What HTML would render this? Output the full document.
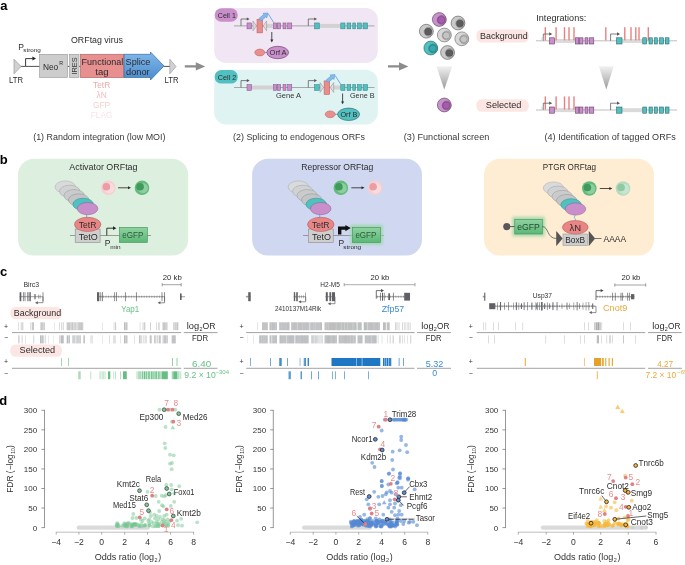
<!DOCTYPE html>
<html><head><meta charset="utf-8"><title>ORFtag figure</title>
<style>
html,body{margin:0;padding:0;background:#fff;}
body{width:685px;height:565px;overflow:hidden;}
svg{display:block;will-change:transform;font-family:"Liberation Sans",sans-serif;}
</style></head><body>
<svg width="685" height="565" viewBox="0 0 685 565">
<defs>
<linearGradient id="gsd" x1="0" y1="0" x2="0" y2="1"><stop offset="0" stop-color="#82b8ea"/><stop offset="1" stop-color="#4a8ccf"/></linearGradient>
<linearGradient id="gfun" x1="0" y1="0" x2="0" y2="1"><stop offset="0" stop-color="#f2f2f2"/><stop offset="1" stop-color="#9a9a9a"/></linearGradient>
<linearGradient id="ggfp" x1="0" y1="0" x2="0" y2="1"><stop offset="0" stop-color="#8fd2a0"/><stop offset="1" stop-color="#5cb877"/></linearGradient>
<filter id="blur1" x="-30%" y="-30%" width="160%" height="160%"><feGaussianBlur stdDeviation="1.6"/></filter>
<filter id="blur05" x="-30%" y="-30%" width="160%" height="160%"><feGaussianBlur stdDeviation="0.7"/></filter>
</defs>
<rect width="685" height="565" fill="#ffffff"/>
<g id="pa">
<text x="0.20" y="10.40" font-size="13" fill="#000" font-weight="bold">a</text>
<text x="71.00" y="42.50" font-size="8.8" fill="#2c2c2c" textLength="52.00" lengthAdjust="spacingAndGlyphs">ORFtag virus</text>
<text x="18.30" y="49.60" font-size="8.5" fill="#2c2c2c">P</text>
<text x="23.30" y="52.00" font-size="5.6" fill="#2c2c2c" textLength="17.50" lengthAdjust="spacingAndGlyphs">strong</text>
<line x1="20.50" y1="66.40" x2="40.00" y2="66.40" stroke="#333" stroke-width="0.85"/>
<line x1="67.50" y1="66.40" x2="69.50" y2="66.40" stroke="#333" stroke-width="0.85"/>
<line x1="79.00" y1="66.40" x2="80.50" y2="66.40" stroke="#333" stroke-width="0.85"/>
<line x1="164.00" y1="66.40" x2="170.00" y2="66.40" stroke="#333" stroke-width="0.85"/>
<path d="M14 59.2V73.8L21 66.5Z" fill="#d2d2d2" stroke="#8e8e8e" stroke-width="0.6"/>
<path d="M169.8 59.2V73.8L176 66.5Z" fill="#d2d2d2" stroke="#8e8e8e" stroke-width="0.6"/>
<path d="M25.60 66.00V58.60H32.70" fill="none" stroke="#222" stroke-width="0.9"/>
<path d="M36.00 58.60l-3.60 -1.98v3.96z" fill="#222"/>
<rect x="39.60" y="54.30" width="27.90" height="23.20" fill="#cdcdcd" stroke="#969696" stroke-width="0.6"/>
<rect x="69.60" y="54.30" width="9.40" height="23.20" fill="#cdcdcd" stroke="#969696" stroke-width="0.6"/>
<rect x="80.60" y="54.30" width="43.40" height="23.20" fill="#e89090" stroke="#b26464" stroke-width="0.7"/>
<path d="M124 54.3H150.5V52L164 66L150.5 80V77.5H124Z" fill="url(#gsd)" stroke="#3a6a9c" stroke-width="0.7"/>
<text x="42.90" y="69.50" font-size="9" fill="#2c2c2c" textLength="15.30" lengthAdjust="spacingAndGlyphs">Neo</text>
<text x="59.20" y="64.60" font-size="5.3" fill="#2c2c2c">R</text>
<text transform="translate(77.4,74.6) rotate(-90)" font-size="6.6" fill="#333" textLength="17.2" lengthAdjust="spacingAndGlyphs">IRES</text>
<text x="81.60" y="64.80" font-size="9" fill="#2c2c2c" textLength="41.60" lengthAdjust="spacingAndGlyphs">Functional</text>
<text x="95.30" y="74.80" font-size="9" fill="#2c2c2c" textLength="13.20" lengthAdjust="spacingAndGlyphs">tag</text>
<text x="125.60" y="64.80" font-size="9" fill="#2c2c2c" textLength="24.80" lengthAdjust="spacingAndGlyphs">Splice</text>
<text x="126.10" y="74.80" font-size="9" fill="#2c2c2c" textLength="23.60" lengthAdjust="spacingAndGlyphs">donor</text>
<text x="9.00" y="82.50" font-size="8.2" fill="#2c2c2c" textLength="14.00" lengthAdjust="spacingAndGlyphs">LTR</text>
<text x="164.60" y="82.50" font-size="8.2" fill="#2c2c2c" textLength="14.00" lengthAdjust="spacingAndGlyphs">LTR</text>
<text x="101.60" y="88.00" font-size="8.4" fill="#eca9a9" text-anchor="middle">TetR</text>
<text x="101.60" y="98.00" font-size="8.4" fill="#f2bdbd" text-anchor="middle">λN</text>
<text x="101.60" y="108.30" font-size="8.4" fill="#f6d0d0" text-anchor="middle">GFP</text>
<text x="101.60" y="118.20" font-size="8.4" fill="#fae3e3" text-anchor="middle">FLAG</text>
<text x="33.20" y="139.50" font-size="8.8" fill="#383838" textLength="132.30" lengthAdjust="spacingAndGlyphs">(1) Random integration (low MOI)</text>
<path d="M184.8 65.2H195.8V62.3L205.20000000000002 66.4L195.8 70.5V67.6H184.8Z" fill="#8c8c8c"/>
<path d="M388 65.2H399V62.3L408.4 66.4L399 70.5V67.6H388Z" fill="#8c8c8c"/>
<rect x="214.20" y="8.00" width="163.60" height="55.10" fill="#f1e6f3" rx="12"/>
<rect x="214.20" y="69.80" width="163.60" height="54.80" fill="#e0f3f3" rx="12"/>
<rect x="214.60" y="8.30" width="23.20" height="13.50" fill="#c88fcb" rx="6.7"/>
<rect x="214.60" y="70.10" width="23.20" height="13.50" fill="#52c0c0" rx="6.7"/>
<text x="217.80" y="18.00" font-size="7.6" fill="#2c2c2c" textLength="18.00" lengthAdjust="spacingAndGlyphs">Cell 1</text>
<text x="217.80" y="80.00" font-size="7.6" fill="#2c2c2c" textLength="18.40" lengthAdjust="spacingAndGlyphs">Cell 2</text>
<line x1="234.00" y1="25.90" x2="374.50" y2="25.90" stroke="#8a8a8a" stroke-width="0.7"/>
<rect x="266.50" y="23.90" width="7.00" height="4.00" fill="#d2d2d2"/>
<rect x="320.00" y="23.90" width="20.80" height="4.00" fill="#d2d2d2"/>
<path d="M241.00 25.90V19.00H247.10" fill="none" stroke="#555" stroke-width="0.75"/>
<path d="M249.60 19.00l-2.80 -1.54v3.08z" fill="#555"/>
<path d="M308.30 25.90V19.00H314.50" fill="none" stroke="#555" stroke-width="0.75"/>
<path d="M317.00 19.00l-2.80 -1.54v3.08z" fill="#555"/>
<rect x="247.00" y="22.95" width="4.50" height="5.90" fill="#c88fcb" stroke="#7d4f80" stroke-width="0.5"/>
<rect x="273.50" y="22.95" width="3.10" height="5.90" fill="#c88fcb" stroke="#7d4f80" stroke-width="0.5"/>
<rect x="277.20" y="22.95" width="3.40" height="5.90" fill="#c88fcb" stroke="#7d4f80" stroke-width="0.5"/>
<rect x="283.00" y="22.95" width="3.00" height="5.90" fill="#c88fcb" stroke="#7d4f80" stroke-width="0.5"/>
<rect x="287.70" y="22.95" width="4.10" height="5.90" fill="#c88fcb" stroke="#7d4f80" stroke-width="0.5"/>
<rect x="314.60" y="22.95" width="4.80" height="5.90" fill="#52c0c0" stroke="#2d7f80" stroke-width="0.5"/>
<rect x="340.80" y="22.95" width="4.20" height="5.90" fill="#52c0c0" stroke="#2d7f80" stroke-width="0.5"/>
<rect x="347.00" y="22.95" width="3.80" height="5.90" fill="#52c0c0" stroke="#2d7f80" stroke-width="0.5"/>
<rect x="352.80" y="22.95" width="2.80" height="5.90" fill="#52c0c0" stroke="#2d7f80" stroke-width="0.5"/>
<rect x="357.50" y="22.95" width="3.80" height="5.90" fill="#52c0c0" stroke="#2d7f80" stroke-width="0.5"/>
<rect x="363.00" y="22.95" width="4.50" height="5.90" fill="#52c0c0" stroke="#2d7f80" stroke-width="0.5"/>
<path d="M253 21.0V30.799999999999997L256.5 25.9Z" fill="#dcdcdc" stroke="#8a8a8a" stroke-width="0.5"/>
<path d="M266.6 21.0V30.799999999999997L263.1 25.9Z" fill="#dcdcdc" stroke="#8a8a8a" stroke-width="0.5"/>
<rect x="257.00" y="19.30" width="5.60" height="13.60" fill="#e98c8c" stroke="#b85a5a" stroke-width="0.5"/>
<g transform="translate(260.00,19.70) rotate(-40)">
<path d="M0 -1.6H6.4V-3L10.4 0L6.4 3V1.6H0Z" fill="#86b9ec" stroke="#4d8fd0" stroke-width="0.45"/>
</g>
<line x1="268.20" y1="13.80" x2="273.60" y2="22.40" stroke="#3d8fd6" stroke-width="0.7"/>
<line x1="234.00" y1="87.50" x2="374.50" y2="87.50" stroke="#8a8a8a" stroke-width="0.7"/>
<rect x="251.50" y="85.50" width="22.00" height="4.00" fill="#d2d2d2"/>
<rect x="333.40" y="85.50" width="7.40" height="4.00" fill="#d2d2d2"/>
<path d="M241.00 87.50V80.60H247.10" fill="none" stroke="#555" stroke-width="0.75"/>
<path d="M249.60 80.60l-2.80 -1.54v3.08z" fill="#555"/>
<path d="M308.30 87.50V80.60H314.50" fill="none" stroke="#555" stroke-width="0.75"/>
<path d="M317.00 80.60l-2.80 -1.54v3.08z" fill="#555"/>
<rect x="247.00" y="84.55" width="4.50" height="5.90" fill="#c88fcb" stroke="#7d4f80" stroke-width="0.5"/>
<rect x="273.50" y="84.55" width="3.10" height="5.90" fill="#c88fcb" stroke="#7d4f80" stroke-width="0.5"/>
<rect x="277.20" y="84.55" width="3.40" height="5.90" fill="#c88fcb" stroke="#7d4f80" stroke-width="0.5"/>
<rect x="283.00" y="84.55" width="3.00" height="5.90" fill="#c88fcb" stroke="#7d4f80" stroke-width="0.5"/>
<rect x="287.70" y="84.55" width="4.10" height="5.90" fill="#c88fcb" stroke="#7d4f80" stroke-width="0.5"/>
<rect x="314.60" y="84.55" width="4.80" height="5.90" fill="#52c0c0" stroke="#2d7f80" stroke-width="0.5"/>
<rect x="340.80" y="84.55" width="4.20" height="5.90" fill="#52c0c0" stroke="#2d7f80" stroke-width="0.5"/>
<rect x="347.00" y="84.55" width="3.80" height="5.90" fill="#52c0c0" stroke="#2d7f80" stroke-width="0.5"/>
<rect x="352.80" y="84.55" width="2.80" height="5.90" fill="#52c0c0" stroke="#2d7f80" stroke-width="0.5"/>
<rect x="357.50" y="84.55" width="3.80" height="5.90" fill="#52c0c0" stroke="#2d7f80" stroke-width="0.5"/>
<rect x="363.00" y="84.55" width="4.50" height="5.90" fill="#52c0c0" stroke="#2d7f80" stroke-width="0.5"/>
<path d="M320.1 82.6V92.4L323.6 87.5Z" fill="#dcdcdc" stroke="#8a8a8a" stroke-width="0.5"/>
<path d="M333.70000000000005 82.6V92.4L330.20000000000005 87.5Z" fill="#dcdcdc" stroke="#8a8a8a" stroke-width="0.5"/>
<rect x="324.10" y="80.90" width="5.60" height="13.60" fill="#e98c8c" stroke="#b85a5a" stroke-width="0.5"/>
<g transform="translate(327.10,81.30) rotate(-40)">
<path d="M0 -1.6H6.4V-3L10.4 0L6.4 3V1.6H0Z" fill="#86b9ec" stroke="#4d8fd0" stroke-width="0.45"/>
</g>
<line x1="335.30" y1="75.80" x2="340.80" y2="84.40" stroke="#3d8fd6" stroke-width="0.7"/>
<line x1="271.80" y1="32.00" x2="271.80" y2="40.40" stroke="#222" stroke-width="0.8"/>
<path d="M271.8 42.4l-1.5 -2.8h3z" fill="#2c2c2c"/>
<line x1="342.60" y1="93.50" x2="342.60" y2="102.20" stroke="#222" stroke-width="0.8"/>
<path d="M342.6 104.2l-1.5 -2.8h3z" fill="#2c2c2c"/>
<line x1="264.50" y1="52.50" x2="267.00" y2="52.50" stroke="#3d8fd6" stroke-width="0.7"/>
<ellipse cx="259.80" cy="52.50" rx="5.00" ry="3.40" fill="#ea8e8e" stroke="#b85a5a" stroke-width="0.5"/>
<ellipse cx="277.70" cy="52.50" rx="10.90" ry="6.20" fill="#c88fcb" stroke="#5d3560" stroke-width="0.6"/>
<text x="269.60" y="55.30" font-size="7.8" fill="#2c2c2c" textLength="17.00" lengthAdjust="spacingAndGlyphs">Orf A</text>
<line x1="335.00" y1="114.30" x2="338.00" y2="114.30" stroke="#3d8fd6" stroke-width="0.7"/>
<ellipse cx="330.20" cy="114.30" rx="5.00" ry="3.40" fill="#ea8e8e" stroke="#b85a5a" stroke-width="0.5"/>
<ellipse cx="348.60" cy="114.30" rx="11.00" ry="6.20" fill="#52c0c0" stroke="#1f5e60" stroke-width="0.6"/>
<text x="340.40" y="117.10" font-size="7.8" fill="#2c2c2c" textLength="17.00" lengthAdjust="spacingAndGlyphs">Orf B</text>
<text x="276.00" y="97.50" font-size="7.4" fill="#333" textLength="25.00" lengthAdjust="spacingAndGlyphs">Gene A</text>
<text x="350.00" y="97.50" font-size="7.4" fill="#333" textLength="24.50" lengthAdjust="spacingAndGlyphs">Gene B</text>
<text x="233.00" y="139.50" font-size="8.8" fill="#383838" textLength="132.00" lengthAdjust="spacingAndGlyphs">(2) Splicing to endogenous ORFs</text>
<ellipse cx="439.30" cy="19.50" rx="6.90" ry="6.90" fill="#c893cc" stroke="#5d3560" stroke-width="0.6"/>
<ellipse cx="441.60" cy="20.00" rx="4.40" ry="4.40" fill="#bb7fc0" stroke="#5d3560" stroke-width="0.45"/>
<ellipse cx="441.30" cy="20.00" rx="3.60" ry="3.60" fill="#a65cae" stroke="#5d3560" stroke-width="0.45"/>
<ellipse cx="458.00" cy="23.00" rx="6.90" ry="6.90" fill="#c9c9c9" stroke="#555" stroke-width="0.6"/>
<ellipse cx="460.30" cy="23.50" rx="4.40" ry="4.40" fill="#d8d8d8" stroke="#555" stroke-width="0.45"/>
<ellipse cx="460.00" cy="23.50" rx="3.60" ry="3.60" fill="#5c5c5f" stroke="#444" stroke-width="0.45"/>
<ellipse cx="426.30" cy="31.20" rx="6.90" ry="6.90" fill="#c9c9c9" stroke="#555" stroke-width="0.6"/>
<ellipse cx="428.60" cy="31.70" rx="4.40" ry="4.40" fill="#d8d8d8" stroke="#555" stroke-width="0.45"/>
<ellipse cx="428.30" cy="31.70" rx="3.60" ry="3.60" fill="#5c5c5f" stroke="#444" stroke-width="0.45"/>
<ellipse cx="444.30" cy="35.00" rx="6.90" ry="6.90" fill="#d8d8d8" stroke="#626262" stroke-width="0.6"/>
<ellipse cx="446.60" cy="35.50" rx="4.40" ry="4.40" fill="#dedede" stroke="#626262" stroke-width="0.45"/>
<ellipse cx="446.30" cy="35.50" rx="3.60" ry="3.60" fill="#c4c4c4" stroke="#626262" stroke-width="0.45"/>
<ellipse cx="461.80" cy="38.80" rx="6.90" ry="6.90" fill="#d8d8d8" stroke="#626262" stroke-width="0.6"/>
<ellipse cx="464.10" cy="39.30" rx="4.40" ry="4.40" fill="#dedede" stroke="#626262" stroke-width="0.45"/>
<ellipse cx="463.80" cy="39.30" rx="3.60" ry="3.60" fill="#c4c4c4" stroke="#626262" stroke-width="0.45"/>
<ellipse cx="430.80" cy="48.00" rx="6.90" ry="6.90" fill="#52c0c0" stroke="#1f5e60" stroke-width="0.6"/>
<ellipse cx="433.10" cy="48.50" rx="4.40" ry="4.40" fill="#45b6b6" stroke="#1f5e60" stroke-width="0.45"/>
<ellipse cx="432.80" cy="48.50" rx="3.60" ry="3.60" fill="#35aaaa" stroke="#1f5e60" stroke-width="0.45"/>
<ellipse cx="447.50" cy="52.50" rx="6.90" ry="6.90" fill="#c9c9c9" stroke="#555" stroke-width="0.6"/>
<ellipse cx="449.80" cy="53.00" rx="4.40" ry="4.40" fill="#d8d8d8" stroke="#555" stroke-width="0.45"/>
<ellipse cx="449.50" cy="53.00" rx="3.60" ry="3.60" fill="#5c5c5f" stroke="#444" stroke-width="0.45"/>
<ellipse cx="444.30" cy="105.00" rx="6.90" ry="6.90" fill="#c893cc" stroke="#5d3560" stroke-width="0.6"/>
<ellipse cx="446.60" cy="105.50" rx="4.40" ry="4.40" fill="#bb7fc0" stroke="#5d3560" stroke-width="0.45"/>
<ellipse cx="446.30" cy="105.50" rx="3.60" ry="3.60" fill="#a65cae" stroke="#5d3560" stroke-width="0.45"/>
<path d="M436.3 66.2H452.2L444.3 89.6Z" fill="url(#gfun)"/>
<path d="M598.8 66.2H613.8L606.3 89.6Z" fill="url(#gfun)"/>
<text x="403.80" y="139.50" font-size="8.8" fill="#383838" textLength="85.50" lengthAdjust="spacingAndGlyphs">(3) Functional screen</text>
<rect x="476.30" y="29.50" width="52.50" height="13.00" fill="#fce6e3" rx="5.5"/>
<rect x="476.30" y="99.30" width="52.50" height="12.50" fill="#fce6e3" rx="5.5"/>
<text x="480.00" y="38.80" font-size="8.8" fill="#2c2c2c" textLength="47.60" lengthAdjust="spacingAndGlyphs">Background</text>
<text x="485.80" y="108.30" font-size="8.8" fill="#2c2c2c" textLength="35.60" lengthAdjust="spacingAndGlyphs">Selected</text>
<text x="536.30" y="20.50" font-size="8.2" fill="#2c2c2c" textLength="50.00" lengthAdjust="spacingAndGlyphs">Integrations:</text>
<line x1="536.00" y1="40.80" x2="677.00" y2="40.80" stroke="#a2a2a2" stroke-width="0.7"/>
<rect x="554.50" y="39.00" width="21.00" height="3.90" fill="#dadada"/>
<rect x="622.00" y="39.00" width="20.80" height="3.90" fill="#dadada"/>
<rect x="544.60" y="27.20" width="1.40" height="13.20" fill="#e98080"/>
<rect x="555.40" y="27.20" width="1.40" height="13.20" fill="#e98080"/>
<rect x="563.80" y="27.20" width="1.40" height="13.20" fill="#e98080"/>
<rect x="568.30" y="27.20" width="1.40" height="13.20" fill="#e98080"/>
<rect x="573.30" y="27.20" width="1.40" height="13.20" fill="#e98080"/>
<rect x="605.10" y="27.20" width="1.40" height="13.20" fill="#e98080"/>
<rect x="624.10" y="27.20" width="1.40" height="13.20" fill="#e98080"/>
<rect x="630.30" y="27.20" width="1.40" height="13.20" fill="#e98080"/>
<rect x="635.10" y="27.20" width="1.40" height="13.20" fill="#e98080"/>
<rect x="638.30" y="27.20" width="1.40" height="13.20" fill="#e98080"/>
<rect x="647.60" y="27.20" width="1.40" height="13.20" fill="#e98080"/>
<path d="M543.30 40.80V34.00H549.50" fill="none" stroke="#555" stroke-width="0.75"/>
<path d="M552.20 34.00l-3.00 -1.65v3.30z" fill="#555"/>
<path d="M610.60 40.80V34.00H617.30" fill="none" stroke="#555" stroke-width="0.75"/>
<path d="M620.00 34.00l-3.00 -1.65v3.30z" fill="#555"/>
<rect x="541.60" y="37.40" width="1.60" height="3.40" fill="#d0d0d0"/>
<rect x="549.50" y="37.80" width="5.00" height="6.20" fill="#c88fcb" stroke="#5d3560" stroke-width="0.55"/>
<rect x="575.50" y="37.80" width="3.30" height="6.20" fill="#c88fcb" stroke="#5d3560" stroke-width="0.55"/>
<rect x="579.40" y="37.80" width="3.60" height="6.20" fill="#c88fcb" stroke="#5d3560" stroke-width="0.55"/>
<rect x="585.00" y="37.80" width="3.00" height="6.20" fill="#c88fcb" stroke="#5d3560" stroke-width="0.55"/>
<rect x="589.50" y="37.80" width="4.30" height="6.20" fill="#c88fcb" stroke="#5d3560" stroke-width="0.55"/>
<rect x="616.60" y="37.80" width="5.40" height="6.20" fill="#52c0c0" stroke="#1f5e60" stroke-width="0.55"/>
<rect x="642.80" y="37.80" width="3.70" height="6.20" fill="#52c0c0" stroke="#1f5e60" stroke-width="0.55"/>
<rect x="649.00" y="37.80" width="3.30" height="6.20" fill="#52c0c0" stroke="#1f5e60" stroke-width="0.55"/>
<rect x="654.50" y="37.80" width="2.80" height="6.20" fill="#52c0c0" stroke="#1f5e60" stroke-width="0.55"/>
<rect x="659.50" y="37.80" width="4.00" height="6.20" fill="#52c0c0" stroke="#1f5e60" stroke-width="0.55"/>
<rect x="665.30" y="37.80" width="3.70" height="6.20" fill="#52c0c0" stroke="#1f5e60" stroke-width="0.55"/>
<line x1="536.00" y1="110.00" x2="677.00" y2="110.00" stroke="#a2a2a2" stroke-width="0.7"/>
<rect x="554.50" y="108.20" width="21.00" height="3.90" fill="#dadada"/>
<rect x="622.00" y="108.20" width="20.80" height="3.90" fill="#dadada"/>
<rect x="544.60" y="96.40" width="1.40" height="13.20" fill="#e98080"/>
<rect x="555.40" y="96.40" width="1.40" height="13.20" fill="#e98080"/>
<rect x="563.80" y="96.40" width="1.40" height="13.20" fill="#e98080"/>
<rect x="568.30" y="96.40" width="1.40" height="13.20" fill="#e98080"/>
<rect x="573.30" y="96.40" width="1.40" height="13.20" fill="#e98080"/>
<path d="M543.30 110.00V103.20H549.50" fill="none" stroke="#555" stroke-width="0.75"/>
<path d="M552.20 103.20l-3.00 -1.65v3.30z" fill="#555"/>
<path d="M610.60 110.00V103.20H617.30" fill="none" stroke="#555" stroke-width="0.75"/>
<path d="M620.00 103.20l-3.00 -1.65v3.30z" fill="#555"/>
<rect x="541.60" y="106.60" width="1.60" height="3.40" fill="#d0d0d0"/>
<rect x="549.50" y="107.00" width="5.00" height="6.20" fill="#c88fcb" stroke="#5d3560" stroke-width="0.55"/>
<rect x="575.50" y="107.00" width="3.30" height="6.20" fill="#c88fcb" stroke="#5d3560" stroke-width="0.55"/>
<rect x="579.40" y="107.00" width="3.60" height="6.20" fill="#c88fcb" stroke="#5d3560" stroke-width="0.55"/>
<rect x="585.00" y="107.00" width="3.00" height="6.20" fill="#c88fcb" stroke="#5d3560" stroke-width="0.55"/>
<rect x="589.50" y="107.00" width="4.30" height="6.20" fill="#c88fcb" stroke="#5d3560" stroke-width="0.55"/>
<rect x="616.60" y="107.00" width="5.40" height="6.20" fill="#52c0c0" stroke="#1f5e60" stroke-width="0.55"/>
<rect x="642.80" y="107.00" width="3.70" height="6.20" fill="#52c0c0" stroke="#1f5e60" stroke-width="0.55"/>
<rect x="649.00" y="107.00" width="3.30" height="6.20" fill="#52c0c0" stroke="#1f5e60" stroke-width="0.55"/>
<rect x="654.50" y="107.00" width="2.80" height="6.20" fill="#52c0c0" stroke="#1f5e60" stroke-width="0.55"/>
<rect x="659.50" y="107.00" width="4.00" height="6.20" fill="#52c0c0" stroke="#1f5e60" stroke-width="0.55"/>
<rect x="665.30" y="107.00" width="3.70" height="6.20" fill="#52c0c0" stroke="#1f5e60" stroke-width="0.55"/>
<text x="544.50" y="139.50" font-size="8.8" fill="#383838" textLength="131.30" lengthAdjust="spacingAndGlyphs">(4) Identification of tagged ORFs</text>
</g>
<g id="pb">
<text x="-0.20" y="163.60" font-size="13" fill="#000" font-weight="bold">b</text>
<rect x="18.00" y="158.70" width="170.20" height="96.90" fill="#ddf0e0" rx="16"/>
<rect x="252.10" y="158.70" width="169.90" height="96.90" fill="#cfd8f0" rx="16"/>
<rect x="484.00" y="158.70" width="170.00" height="96.90" fill="#feedd2" rx="16"/>
<text x="69.30" y="169.80" font-size="8.6" fill="#2c2c2c" textLength="68.20" lengthAdjust="spacingAndGlyphs">Activator ORFtag</text>
<text x="301.30" y="169.80" font-size="8.6" fill="#2c2c2c" textLength="72.00" lengthAdjust="spacingAndGlyphs">Repressor ORFtag</text>
<text x="542.80" y="169.80" font-size="8.6" fill="#2c2c2c" textLength="53.20" lengthAdjust="spacingAndGlyphs">PTGR ORFtag</text>
<ellipse cx="65.30" cy="187.00" rx="10.30" ry="6.10" fill="#d9dadb" stroke="#a9a9a9" stroke-width="0.5"/>
<ellipse cx="69.76" cy="191.32" rx="10.30" ry="6.10" fill="#d1d2d3" stroke="#a0a0a0" stroke-width="0.5"/>
<ellipse cx="74.22" cy="195.64" rx="10.30" ry="6.10" fill="#cacbcc" stroke="#999" stroke-width="0.5"/>
<ellipse cx="78.68" cy="199.96" rx="10.30" ry="6.10" fill="#c4c5c6" stroke="#8e8e8e" stroke-width="0.5"/>
<ellipse cx="83.14" cy="204.28" rx="10.30" ry="6.10" fill="#4fc1c1" stroke="#2d8a8a" stroke-width="0.5"/>
<ellipse cx="87.60" cy="208.60" rx="10.30" ry="6.10" fill="#c88fcb" stroke="#8a5a8e" stroke-width="0.5"/>
<line x1="86.60" y1="214.40" x2="86.60" y2="218.00" stroke="#4d9fdc" stroke-width="0.8"/>
<line x1="70.00" y1="235.50" x2="151.00" y2="235.50" stroke="#777" stroke-width="0.7"/>
<rect x="75.20" y="229.00" width="24.90" height="13.40" fill="#cfcfcf" stroke="#8a8a8a" stroke-width="0.6"/>
<ellipse cx="87.70" cy="224.40" rx="13.20" ry="7.10" fill="#e98585" stroke="#b45a5a" stroke-width="0.6"/>
<text x="78.80" y="228.00" font-size="8.6" fill="#2c2c2c" textLength="17.60" lengthAdjust="spacingAndGlyphs">TetR</text>
<text x="78.80" y="240.10" font-size="8.6" fill="#2c2c2c" textLength="19.00" lengthAdjust="spacingAndGlyphs">TetO</text>
<rect x="119.40" y="227.30" width="27.90" height="15.10" fill="url(#ggfp)" stroke="#3f8f57" stroke-width="0.6"/>
<text x="122.30" y="238.40" font-size="8.6" fill="#2d5a3a" textLength="21.00" lengthAdjust="spacingAndGlyphs">eGFP</text>
<path d="M106.80 235.50V228.20H113.30" fill="none" stroke="#222" stroke-width="0.9"/>
<path d="M116.40 228.20l-3.40 -1.87v3.74z" fill="#222"/>
<text x="104.80" y="245.60" font-size="8.5" fill="#2c2c2c">P</text>
<text x="110.20" y="248.50" font-size="5.6" fill="#2c2c2c" textLength="10.40" lengthAdjust="spacingAndGlyphs">min</text>
<ellipse cx="298.40" cy="187.00" rx="10.30" ry="6.10" fill="#d9dadb" stroke="#a9a9a9" stroke-width="0.5"/>
<ellipse cx="302.86" cy="191.32" rx="10.30" ry="6.10" fill="#d1d2d3" stroke="#a0a0a0" stroke-width="0.5"/>
<ellipse cx="307.32" cy="195.64" rx="10.30" ry="6.10" fill="#cacbcc" stroke="#999" stroke-width="0.5"/>
<ellipse cx="311.78" cy="199.96" rx="10.30" ry="6.10" fill="#c4c5c6" stroke="#8e8e8e" stroke-width="0.5"/>
<ellipse cx="316.24" cy="204.28" rx="10.30" ry="6.10" fill="#4fc1c1" stroke="#2d8a8a" stroke-width="0.5"/>
<ellipse cx="320.70" cy="208.60" rx="10.30" ry="6.10" fill="#c88fcb" stroke="#8a5a8e" stroke-width="0.5"/>
<line x1="319.70" y1="214.40" x2="319.70" y2="218.00" stroke="#4d9fdc" stroke-width="0.8"/>
<line x1="303.10" y1="235.50" x2="383.70" y2="235.50" stroke="#777" stroke-width="0.7"/>
<rect x="308.30" y="229.00" width="24.90" height="13.40" fill="#cfcfcf" stroke="#8a8a8a" stroke-width="0.6"/>
<ellipse cx="320.80" cy="224.40" rx="13.20" ry="7.10" fill="#e98585" stroke="#b45a5a" stroke-width="0.6"/>
<text x="311.90" y="228.00" font-size="8.6" fill="#2c2c2c" textLength="17.60" lengthAdjust="spacingAndGlyphs">TetR</text>
<text x="311.90" y="240.10" font-size="8.6" fill="#2c2c2c" textLength="19.00" lengthAdjust="spacingAndGlyphs">TetO</text>
<rect x="350.30" y="224.80" width="32.40" height="20.00" fill="#9ad6aa" filter="url(#blur1)" opacity="0.85"/>
<rect x="352.50" y="227.30" width="27.90" height="15.10" fill="url(#ggfp)" stroke="#3f8f57" stroke-width="0.6"/>
<text x="355.40" y="238.40" font-size="8.6" fill="#2d5a3a" textLength="21.00" lengthAdjust="spacingAndGlyphs">eGFP</text>
<path d="M338 234.6V226.4H345.4V225L350.7 228.1L345.4 231.2V229.7H341.4V234.6Z" fill="#111"/>
<text x="338.40" y="245.60" font-size="8.5" fill="#2c2c2c">P</text>
<text x="343.20" y="248.50" font-size="5.6" fill="#2c2c2c" textLength="18.00" lengthAdjust="spacingAndGlyphs">strong</text>
<ellipse cx="108.30" cy="187.80" rx="7.30" ry="7.30" fill="#f7cfd2" filter="url(#blur05)"/>
<ellipse cx="108.30" cy="187.80" rx="6.60" ry="6.60" fill="#f7cfd2"/>
<ellipse cx="109.20" cy="188.30" rx="5.00" ry="5.00" fill="#ffffff" opacity="0.28" filter="url(#blur05)"/>
<ellipse cx="106.40" cy="186.80" rx="3.80" ry="3.80" fill="#ec9da4" filter="url(#blur05)"/>
<line x1="118.00" y1="187.80" x2="129.00" y2="187.80" stroke="#222" stroke-width="0.8"/>
<path d="M131 187.8l-3 -1.5v3z" fill="#2c2c2c"/>
<ellipse cx="142.00" cy="187.80" rx="7.30" ry="7.30" fill="#63bb7c" filter="url(#blur05)"/>
<ellipse cx="142.00" cy="187.80" rx="6.60" ry="6.60" fill="#63bb7c"/>
<ellipse cx="142.90" cy="188.30" rx="5.00" ry="5.00" fill="#ffffff" opacity="0.28" filter="url(#blur05)"/>
<ellipse cx="140.10" cy="186.80" rx="3.80" ry="3.80" fill="#3f9a5c" filter="url(#blur05)"/>
<ellipse cx="340.80" cy="187.80" rx="7.30" ry="7.30" fill="#63bb7c" filter="url(#blur05)"/>
<ellipse cx="340.80" cy="187.80" rx="6.60" ry="6.60" fill="#63bb7c"/>
<ellipse cx="341.70" cy="188.30" rx="5.00" ry="5.00" fill="#ffffff" opacity="0.28" filter="url(#blur05)"/>
<ellipse cx="338.90" cy="186.80" rx="3.80" ry="3.80" fill="#3f9a5c" filter="url(#blur05)"/>
<line x1="351.30" y1="187.80" x2="362.50" y2="187.80" stroke="#222" stroke-width="0.8"/>
<path d="M364.5 187.8l-3 -1.5v3z" fill="#2c2c2c"/>
<ellipse cx="375.00" cy="187.80" rx="7.30" ry="7.30" fill="#f7cfd2" filter="url(#blur05)"/>
<ellipse cx="375.00" cy="187.80" rx="6.60" ry="6.60" fill="#f7cfd2"/>
<ellipse cx="375.90" cy="188.30" rx="5.00" ry="5.00" fill="#ffffff" opacity="0.28" filter="url(#blur05)"/>
<ellipse cx="373.10" cy="186.80" rx="3.80" ry="3.80" fill="#ec9da4" filter="url(#blur05)"/>
<ellipse cx="553.50" cy="188.00" rx="10.30" ry="6.10" fill="#d9dadb" stroke="#a9a9a9" stroke-width="0.5"/>
<ellipse cx="557.90" cy="192.20" rx="10.30" ry="6.10" fill="#d1d2d3" stroke="#a0a0a0" stroke-width="0.5"/>
<ellipse cx="562.30" cy="196.40" rx="10.30" ry="6.10" fill="#cacbcc" stroke="#999" stroke-width="0.5"/>
<ellipse cx="566.70" cy="200.60" rx="10.30" ry="6.10" fill="#c4c5c6" stroke="#8e8e8e" stroke-width="0.5"/>
<ellipse cx="571.10" cy="204.80" rx="10.30" ry="6.10" fill="#4fc1c1" stroke="#2d8a8a" stroke-width="0.5"/>
<ellipse cx="575.50" cy="209.00" rx="10.30" ry="6.10" fill="#c88fcb" stroke="#8a5a8e" stroke-width="0.5"/>
<path d="M574.6 214.8c1.5 1.2 -1.6 2.6 0.2 3.6c1 0.6 0.6 1.3 0.4 2" fill="none" stroke="#4d9fdc" stroke-width="0.8"/>
<rect x="512.40" y="216.80" width="32.40" height="19.60" fill="#9ad6aa" filter="url(#blur1)" opacity="0.85"/>
<line x1="506.80" y1="226.60" x2="514.80" y2="226.60" stroke="#333" stroke-width="0.8"/>
<ellipse cx="506.80" cy="226.60" rx="3.60" ry="3.60" fill="#58585c"/>
<rect x="514.80" y="219.30" width="27.50" height="14.70" fill="url(#ggfp)" stroke="#3f8f57" stroke-width="0.6"/>
<text x="517.20" y="230.00" font-size="8.6" fill="#234b30" textLength="22.60" lengthAdjust="spacingAndGlyphs">eGFP</text>
<path d="M542.3 226.6C549 226.6 546.5 238.5 556.5 238.5" fill="none" stroke="#444" stroke-width="0.7"/>
<path d="M556.5 231.6V245.5L562.4 238.5Z" fill="#55565a" stroke="#333" stroke-width="0.4"/>
<path d="M589 231.6V245.5L594.9 238.5Z" fill="#55565a" stroke="#333" stroke-width="0.4"/>
<rect x="563.00" y="234.00" width="24.30" height="11.50" fill="#cdcdcd" stroke="#9a9a9a" stroke-width="0.6"/>
<ellipse cx="575.30" cy="227.30" rx="12.80" ry="6.80" fill="#e98585" stroke="#b45a5a" stroke-width="0.6"/>
<text x="569.40" y="230.60" font-size="8.6" fill="#2c2c2c" textLength="11.60" lengthAdjust="spacingAndGlyphs">λN</text>
<text x="565.20" y="242.90" font-size="8.4" fill="#2c2c2c" textLength="20.00" lengthAdjust="spacingAndGlyphs">BoxB</text>
<line x1="594.90" y1="238.50" x2="601.50" y2="238.50" stroke="#444" stroke-width="0.7"/>
<text x="603.50" y="241.80" font-size="8.6" fill="#2c2c2c" textLength="22.60" lengthAdjust="spacingAndGlyphs">AAAA</text>
<ellipse cx="589.30" cy="188.50" rx="7.30" ry="7.30" fill="#63bb7c" filter="url(#blur05)"/>
<ellipse cx="589.30" cy="188.50" rx="6.60" ry="6.60" fill="#63bb7c"/>
<ellipse cx="590.20" cy="189.00" rx="5.00" ry="5.00" fill="#ffffff" opacity="0.28" filter="url(#blur05)"/>
<ellipse cx="587.40" cy="187.50" rx="3.80" ry="3.80" fill="#3f9a5c" filter="url(#blur05)"/>
<line x1="599.80" y1="188.50" x2="610.30" y2="188.50" stroke="#222" stroke-width="0.8"/>
<path d="M612.3 188.5l-3 -1.5v3z" fill="#2c2c2c"/>
<ellipse cx="623.00" cy="188.50" rx="7.30" ry="7.30" fill="#b5dcc0" filter="url(#blur05)"/>
<ellipse cx="623.00" cy="188.50" rx="6.60" ry="6.60" fill="#b5dcc0"/>
<ellipse cx="623.90" cy="189.00" rx="5.00" ry="5.00" fill="#ffffff" opacity="0.28" filter="url(#blur05)"/>
<ellipse cx="621.10" cy="187.50" rx="3.80" ry="3.80" fill="#8fcaa2" filter="url(#blur05)"/>
</g>
<g id="pc">
<text x="0.10" y="276.30" font-size="13" fill="#000" font-weight="bold">c</text>
<text x="23.40" y="286.60" font-size="6.8" fill="#333" textLength="15.80" lengthAdjust="spacingAndGlyphs">Birc3</text>
<line x1="19.40" y1="296.70" x2="43.00" y2="296.70" stroke="#606165" stroke-width="0.6"/>
<line x1="20.70" y1="295.60" x2="20.70" y2="297.80" stroke="#606165" stroke-width="0.45"/>
<rect x="19.60" y="292.20" width="1.70" height="9.00" fill="#606165"/>
<rect x="22.95" y="292.20" width="0.70" height="9.00" fill="#606165"/>
<rect x="24.65" y="292.20" width="0.70" height="9.00" fill="#606165"/>
<rect x="27.40" y="292.20" width="0.90" height="9.00" fill="#606165"/>
<rect x="28.80" y="292.20" width="0.80" height="9.00" fill="#606165"/>
<rect x="30.00" y="292.20" width="0.80" height="9.00" fill="#606165"/>
<rect x="34.20" y="294.10" width="0.60" height="5.20" fill="#606165"/>
<rect x="35.20" y="294.10" width="0.60" height="5.20" fill="#606165"/>
<rect x="38.10" y="294.70" width="0.50" height="4.00" fill="#606165"/>
<rect x="39.80" y="294.70" width="0.50" height="4.00" fill="#606165"/>
<rect x="42.65" y="292.20" width="0.70" height="9.00" fill="#606165"/>
<path d="M43.00 296.70V302.70H36.80" fill="none" stroke="#606165" stroke-width="0.7"/>
<path d="M35.00 302.70l2.8 -1.5v3z" fill="#606165"/>
<line x1="97.00" y1="296.70" x2="165.00" y2="296.70" stroke="#606165" stroke-width="0.6"/>
<line x1="98.30" y1="295.60" x2="98.30" y2="297.80" stroke="#606165" stroke-width="0.45"/>
<line x1="100.85" y1="295.60" x2="100.85" y2="297.80" stroke="#606165" stroke-width="0.45"/>
<line x1="103.40" y1="295.60" x2="103.40" y2="297.80" stroke="#606165" stroke-width="0.45"/>
<line x1="105.95" y1="295.60" x2="105.95" y2="297.80" stroke="#606165" stroke-width="0.45"/>
<line x1="108.50" y1="295.60" x2="108.50" y2="297.80" stroke="#606165" stroke-width="0.45"/>
<line x1="111.05" y1="295.60" x2="111.05" y2="297.80" stroke="#606165" stroke-width="0.45"/>
<line x1="113.60" y1="295.60" x2="113.60" y2="297.80" stroke="#606165" stroke-width="0.45"/>
<line x1="116.15" y1="295.60" x2="116.15" y2="297.80" stroke="#606165" stroke-width="0.45"/>
<line x1="118.70" y1="295.60" x2="118.70" y2="297.80" stroke="#606165" stroke-width="0.45"/>
<line x1="121.25" y1="295.60" x2="121.25" y2="297.80" stroke="#606165" stroke-width="0.45"/>
<line x1="123.80" y1="295.60" x2="123.80" y2="297.80" stroke="#606165" stroke-width="0.45"/>
<line x1="126.35" y1="295.60" x2="126.35" y2="297.80" stroke="#606165" stroke-width="0.45"/>
<line x1="128.90" y1="295.60" x2="128.90" y2="297.80" stroke="#606165" stroke-width="0.45"/>
<line x1="131.45" y1="295.60" x2="131.45" y2="297.80" stroke="#606165" stroke-width="0.45"/>
<line x1="134.00" y1="295.60" x2="134.00" y2="297.80" stroke="#606165" stroke-width="0.45"/>
<line x1="136.55" y1="295.60" x2="136.55" y2="297.80" stroke="#606165" stroke-width="0.45"/>
<line x1="139.10" y1="295.60" x2="139.10" y2="297.80" stroke="#606165" stroke-width="0.45"/>
<line x1="141.65" y1="295.60" x2="141.65" y2="297.80" stroke="#606165" stroke-width="0.45"/>
<line x1="144.20" y1="295.60" x2="144.20" y2="297.80" stroke="#606165" stroke-width="0.45"/>
<line x1="146.75" y1="295.60" x2="146.75" y2="297.80" stroke="#606165" stroke-width="0.45"/>
<line x1="149.30" y1="295.60" x2="149.30" y2="297.80" stroke="#606165" stroke-width="0.45"/>
<line x1="151.85" y1="295.60" x2="151.85" y2="297.80" stroke="#606165" stroke-width="0.45"/>
<line x1="154.40" y1="295.60" x2="154.40" y2="297.80" stroke="#606165" stroke-width="0.45"/>
<line x1="156.95" y1="295.60" x2="156.95" y2="297.80" stroke="#606165" stroke-width="0.45"/>
<line x1="159.50" y1="295.60" x2="159.50" y2="297.80" stroke="#606165" stroke-width="0.45"/>
<line x1="162.05" y1="295.60" x2="162.05" y2="297.80" stroke="#606165" stroke-width="0.45"/>
<rect x="97.00" y="292.20" width="2.30" height="9.00" fill="#606165"/>
<rect x="100.45" y="292.20" width="0.70" height="9.00" fill="#606165"/>
<rect x="102.15" y="292.20" width="0.70" height="9.00" fill="#606165"/>
<rect x="114.35" y="292.20" width="0.70" height="9.00" fill="#606165"/>
<rect x="116.05" y="292.20" width="0.70" height="9.00" fill="#606165"/>
<rect x="124.95" y="292.20" width="0.70" height="9.00" fill="#606165"/>
<rect x="135.95" y="292.20" width="0.70" height="9.00" fill="#606165"/>
<rect x="161.65" y="292.20" width="0.70" height="9.00" fill="#606165"/>
<rect x="164.25" y="292.20" width="0.70" height="9.00" fill="#606165"/>
<path d="M164.60 296.70V302.80H159.40" fill="none" stroke="#606165" stroke-width="0.7"/>
<path d="M157.60 302.80l2.8 -1.5v3z" fill="#606165"/>
<line x1="180.00" y1="296.70" x2="185.00" y2="296.70" stroke="#606165" stroke-width="0.6"/>
<line x1="181.30" y1="295.60" x2="181.30" y2="297.80" stroke="#606165" stroke-width="0.45"/>
<rect x="180.00" y="293.40" width="1.60" height="6.60" fill="#606165"/>
<text x="162.80" y="279.70" font-size="7.3" fill="#2c2c2c" textLength="19.00" lengthAdjust="spacingAndGlyphs">20 kb</text>
<line x1="162.20" y1="284.70" x2="181.20" y2="284.70" stroke="#666" stroke-width="0.6"/>
<line x1="162.20" y1="283.00" x2="162.20" y2="286.40" stroke="#666" stroke-width="0.6"/>
<line x1="181.20" y1="283.00" x2="181.20" y2="286.40" stroke="#666" stroke-width="0.6"/>
<text x="121.20" y="311.80" font-size="8.4" fill="#68c186" textLength="18.00" lengthAdjust="spacingAndGlyphs">Yap1</text>
<rect x="10.20" y="307.00" width="51.80" height="12.30" fill="#fce6e3" rx="5.5"/>
<rect x="10.20" y="344.40" width="51.80" height="12.40" fill="#fce6e3" rx="5.5"/>
<text x="13.80" y="315.80" font-size="8.8" fill="#2c2c2c" textLength="47.40" lengthAdjust="spacingAndGlyphs">Background</text>
<text x="19.60" y="353.20" font-size="8.8" fill="#2c2c2c" textLength="35.60" lengthAdjust="spacingAndGlyphs">Selected</text>
<text x="6.00" y="328.60" font-size="7" fill="#333" text-anchor="middle">+</text>
<text x="6.00" y="340.20" font-size="7" fill="#333" text-anchor="middle">−</text>
<text x="6.00" y="364.40" font-size="7" fill="#333" text-anchor="middle">+</text>
<text x="6.00" y="376.00" font-size="7" fill="#333" text-anchor="middle">−</text>
<line x1="12.00" y1="332.60" x2="181.20" y2="332.60" stroke="#7a7a7a" stroke-width="0.7"/>
<line x1="183.80" y1="332.60" x2="217.50" y2="332.60" stroke="#7a7a7a" stroke-width="0.7"/>
<line x1="12.00" y1="368.30" x2="181.20" y2="368.30" stroke="#7a7a7a" stroke-width="0.7"/>
<line x1="183.80" y1="368.30" x2="217.50" y2="368.30" stroke="#7a7a7a" stroke-width="0.7"/>
<rect x="18.00" y="322.30" width="0.60" height="7.90" fill="#8e9094" opacity="0.45"/>
<rect x="20.80" y="322.30" width="0.80" height="7.90" fill="#8e9094" opacity="0.52"/>
<rect x="22.20" y="322.30" width="1.10" height="7.90" fill="#8e9094" opacity="0.45"/>
<rect x="30.50" y="322.30" width="0.80" height="7.90" fill="#8e9094" opacity="0.52"/>
<rect x="32.20" y="322.30" width="1.60" height="7.90" fill="#8e9094" opacity="0.60"/>
<rect x="40.50" y="322.30" width="1.30" height="7.90" fill="#8e9094" opacity="0.60"/>
<rect x="42.00" y="322.30" width="1.30" height="7.90" fill="#8e9094" opacity="0.45"/>
<rect x="43.60" y="322.30" width="1.10" height="7.90" fill="#8e9094" opacity="0.60"/>
<rect x="54.30" y="322.30" width="0.50" height="7.90" fill="#8e9094" opacity="0.38"/>
<rect x="59.30" y="322.30" width="0.60" height="7.90" fill="#8e9094" opacity="0.52"/>
<rect x="61.00" y="322.30" width="0.60" height="7.90" fill="#8e9094" opacity="0.52"/>
<rect x="62.80" y="322.30" width="0.80" height="7.90" fill="#8e9094" opacity="0.52"/>
<rect x="66.70" y="322.30" width="16.60" height="7.90" fill="#8e9094" opacity="0.41"/>
<rect x="66.70" y="322.30" width="0.78" height="7.90" fill="#8e9094" opacity="0.19"/>
<rect x="68.41" y="322.30" width="1.19" height="7.90" fill="#8e9094" opacity="0.20"/>
<rect x="70.08" y="322.30" width="0.50" height="7.90" fill="#ffffff" opacity="0.31"/>
<rect x="71.69" y="322.30" width="0.50" height="7.90" fill="#ffffff" opacity="0.38"/>
<rect x="71.94" y="322.30" width="0.90" height="7.90" fill="#8e9094" opacity="0.21"/>
<rect x="73.23" y="322.30" width="0.50" height="7.90" fill="#ffffff" opacity="0.43"/>
<rect x="74.33" y="322.30" width="0.50" height="7.90" fill="#ffffff" opacity="0.21"/>
<rect x="76.48" y="322.30" width="0.50" height="7.90" fill="#ffffff" opacity="0.58"/>
<rect x="77.69" y="322.30" width="0.50" height="7.90" fill="#ffffff" opacity="0.79"/>
<rect x="77.94" y="322.30" width="1.33" height="7.90" fill="#8e9094" opacity="0.12"/>
<rect x="79.27" y="322.30" width="1.91" height="7.90" fill="#8e9094" opacity="0.11"/>
<rect x="81.18" y="322.30" width="1.04" height="7.90" fill="#8e9094" opacity="0.19"/>
<rect x="102.30" y="322.30" width="0.50" height="7.90" fill="#8e9094" opacity="0.38"/>
<rect x="113.70" y="322.30" width="0.70" height="7.90" fill="#8e9094" opacity="0.45"/>
<rect x="115.20" y="322.30" width="0.90" height="7.90" fill="#8e9094" opacity="0.52"/>
<rect x="124.00" y="322.30" width="1.60" height="7.90" fill="#8e9094" opacity="0.60"/>
<rect x="125.90" y="322.30" width="1.60" height="7.90" fill="#8e9094" opacity="0.52"/>
<rect x="139.70" y="322.30" width="0.70" height="7.90" fill="#8e9094" opacity="0.38"/>
<rect x="142.50" y="322.30" width="1.10" height="7.90" fill="#8e9094" opacity="0.38"/>
<rect x="144.00" y="322.30" width="1.30" height="7.90" fill="#8e9094" opacity="0.45"/>
<rect x="150.00" y="322.30" width="0.90" height="7.90" fill="#8e9094" opacity="0.45"/>
<rect x="156.20" y="322.30" width="0.70" height="7.90" fill="#8e9094" opacity="0.45"/>
<rect x="158.40" y="322.30" width="1.10" height="7.90" fill="#8e9094" opacity="0.52"/>
<rect x="162.50" y="322.30" width="5.10" height="7.90" fill="#8e9094" opacity="0.41"/>
<rect x="162.50" y="322.30" width="1.86" height="7.90" fill="#8e9094" opacity="0.10"/>
<rect x="164.36" y="322.30" width="0.71" height="7.90" fill="#8e9094" opacity="0.19"/>
<rect x="173.00" y="322.30" width="0.70" height="7.90" fill="#8e9094" opacity="0.52"/>
<rect x="174.00" y="322.30" width="0.70" height="7.90" fill="#8e9094" opacity="0.45"/>
<rect x="175.30" y="322.30" width="1.30" height="7.90" fill="#8e9094" opacity="0.60"/>
<rect x="177.00" y="322.30" width="1.30" height="7.90" fill="#8e9094" opacity="0.52"/>
<rect x="18.00" y="335.30" width="0.80" height="8.10" fill="#8e9094" opacity="0.45"/>
<rect x="19.00" y="335.30" width="0.70" height="8.10" fill="#8e9094" opacity="0.38"/>
<rect x="21.70" y="335.30" width="0.80" height="8.10" fill="#8e9094" opacity="0.45"/>
<rect x="25.00" y="335.30" width="0.60" height="8.10" fill="#8e9094" opacity="0.38"/>
<rect x="33.30" y="335.30" width="0.90" height="8.10" fill="#8e9094" opacity="0.45"/>
<rect x="40.00" y="335.30" width="1.60" height="8.10" fill="#8e9094" opacity="0.60"/>
<rect x="41.80" y="335.30" width="1.90" height="8.10" fill="#8e9094" opacity="0.52"/>
<rect x="44.70" y="335.30" width="1.10" height="8.10" fill="#8e9094" opacity="0.38"/>
<rect x="48.20" y="335.30" width="0.50" height="8.10" fill="#8e9094" opacity="0.38"/>
<rect x="52.90" y="335.30" width="0.60" height="8.10" fill="#8e9094" opacity="0.26"/>
<rect x="59.20" y="335.30" width="1.20" height="8.10" fill="#8e9094" opacity="0.45"/>
<rect x="60.80" y="335.30" width="2.90" height="8.10" fill="#8e9094" opacity="0.60"/>
<rect x="66.70" y="335.30" width="1.60" height="8.10" fill="#8e9094" opacity="0.60"/>
<rect x="68.50" y="335.30" width="1.50" height="8.10" fill="#8e9094" opacity="0.52"/>
<rect x="72.20" y="335.30" width="8.60" height="8.10" fill="#8e9094" opacity="0.41"/>
<rect x="75.38" y="335.30" width="0.50" height="8.10" fill="#ffffff" opacity="0.79"/>
<rect x="76.32" y="335.30" width="0.50" height="8.10" fill="#ffffff" opacity="0.32"/>
<rect x="79.47" y="335.30" width="0.50" height="8.10" fill="#ffffff" opacity="0.42"/>
<rect x="79.72" y="335.30" width="1.08" height="8.10" fill="#8e9094" opacity="0.18"/>
<rect x="83.30" y="335.30" width="1.70" height="8.10" fill="#8e9094" opacity="0.52"/>
<rect x="90.50" y="335.30" width="0.90" height="8.10" fill="#8e9094" opacity="0.38"/>
<rect x="91.80" y="335.30" width="1.00" height="8.10" fill="#8e9094" opacity="0.30"/>
<rect x="102.30" y="335.30" width="0.50" height="8.10" fill="#8e9094" opacity="0.38"/>
<rect x="109.00" y="335.30" width="0.80" height="8.10" fill="#8e9094" opacity="0.38"/>
<rect x="113.30" y="335.30" width="1.30" height="8.10" fill="#8e9094" opacity="0.38"/>
<rect x="114.90" y="335.30" width="0.90" height="8.10" fill="#8e9094" opacity="0.30"/>
<rect x="120.30" y="335.30" width="0.70" height="8.10" fill="#8e9094" opacity="0.30"/>
<rect x="124.00" y="335.30" width="1.70" height="8.10" fill="#8e9094" opacity="0.60"/>
<rect x="126.00" y="335.30" width="1.50" height="8.10" fill="#8e9094" opacity="0.52"/>
<rect x="134.30" y="335.30" width="0.70" height="8.10" fill="#8e9094" opacity="0.38"/>
<rect x="139.00" y="335.30" width="1.30" height="8.10" fill="#8e9094" opacity="0.52"/>
<rect x="140.60" y="335.30" width="1.10" height="8.10" fill="#8e9094" opacity="0.45"/>
<rect x="142.80" y="335.30" width="0.70" height="8.10" fill="#8e9094" opacity="0.45"/>
<rect x="144.70" y="335.30" width="0.90" height="8.10" fill="#8e9094" opacity="0.45"/>
<rect x="146.30" y="335.30" width="0.70" height="8.10" fill="#8e9094" opacity="0.38"/>
<rect x="149.70" y="335.30" width="2.00" height="8.10" fill="#8e9094" opacity="0.52"/>
<rect x="154.00" y="335.30" width="1.80" height="8.10" fill="#8e9094" opacity="0.45"/>
<rect x="156.60" y="335.30" width="1.20" height="8.10" fill="#8e9094" opacity="0.45"/>
<rect x="158.70" y="335.30" width="2.10" height="8.10" fill="#8e9094" opacity="0.52"/>
<rect x="162.50" y="335.30" width="5.50" height="8.10" fill="#8e9094" opacity="0.41"/>
<rect x="163.16" y="335.30" width="0.50" height="8.10" fill="#ffffff" opacity="0.24"/>
<rect x="164.10" y="335.30" width="1.81" height="8.10" fill="#8e9094" opacity="0.19"/>
<rect x="171.70" y="335.30" width="4.10" height="8.10" fill="#8e9094" opacity="0.41"/>
<rect x="171.70" y="335.30" width="1.42" height="8.10" fill="#8e9094" opacity="0.20"/>
<rect x="173.12" y="335.30" width="1.84" height="8.10" fill="#8e9094" opacity="0.21"/>
<rect x="175.40" y="335.30" width="0.60" height="8.10" fill="#8e9094" opacity="0.21"/>
<rect x="61.30" y="358.00" width="0.70" height="8.00" fill="#57b777" opacity="0.80"/>
<rect x="68.30" y="358.00" width="0.70" height="8.00" fill="#57b777" opacity="0.80"/>
<rect x="172.00" y="358.00" width="0.80" height="8.00" fill="#57b777" opacity="0.80"/>
<rect x="176.60" y="358.00" width="0.80" height="8.00" fill="#57b777" opacity="0.80"/>
<rect x="78.30" y="371.30" width="0.90" height="7.90" fill="#57b777" opacity="0.54"/>
<rect x="79.40" y="371.30" width="1.10" height="7.90" fill="#57b777" opacity="0.72"/>
<rect x="90.50" y="371.30" width="0.70" height="7.90" fill="#57b777" opacity="0.54"/>
<rect x="99.70" y="371.30" width="0.70" height="7.90" fill="#57b777" opacity="0.63"/>
<rect x="101.70" y="371.30" width="0.70" height="7.90" fill="#57b777" opacity="0.63"/>
<rect x="103.50" y="371.30" width="0.80" height="7.90" fill="#57b777" opacity="0.63"/>
<rect x="105.30" y="371.30" width="0.50" height="7.90" fill="#57b777" opacity="0.45"/>
<rect x="108.00" y="371.30" width="2.30" height="7.90" fill="#57b777" opacity="0.90"/>
<rect x="113.40" y="371.30" width="0.70" height="7.90" fill="#57b777" opacity="0.45"/>
<rect x="115.30" y="371.30" width="0.70" height="7.90" fill="#57b777" opacity="0.54"/>
<rect x="120.20" y="371.30" width="0.70" height="7.90" fill="#57b777" opacity="0.63"/>
<rect x="123.00" y="371.30" width="3.80" height="7.90" fill="#57b777" opacity="0.90"/>
<rect x="136.30" y="371.30" width="1.20" height="7.90" fill="#57b777" opacity="0.32"/>
<rect x="137.70" y="371.30" width="1.30" height="7.90" fill="#57b777" opacity="0.45"/>
<rect x="139.20" y="371.30" width="1.60" height="7.90" fill="#57b777" opacity="0.63"/>
<rect x="141.60" y="371.30" width="1.82" height="7.90" fill="#57b777" opacity="0.76"/>
<rect x="143.97" y="371.30" width="1.52" height="7.90" fill="#57b777" opacity="0.87"/>
<rect x="146.04" y="371.30" width="1.41" height="7.90" fill="#57b777" opacity="0.79"/>
<rect x="148.00" y="371.30" width="2.21" height="7.90" fill="#57b777" opacity="0.69"/>
<rect x="150.76" y="371.30" width="1.90" height="7.90" fill="#57b777" opacity="0.81"/>
<rect x="153.20" y="371.30" width="1.44" height="7.90" fill="#57b777" opacity="0.76"/>
<rect x="155.19" y="371.30" width="2.03" height="7.90" fill="#57b777" opacity="0.78"/>
<rect x="157.77" y="371.30" width="2.05" height="7.90" fill="#57b777" opacity="0.71"/>
<rect x="160.38" y="371.30" width="1.02" height="7.90" fill="#57b777" opacity="0.70"/>
<rect x="161.70" y="371.30" width="6.10" height="7.90" fill="#57b777" opacity="0.90"/>
<rect x="171.70" y="371.30" width="1.30" height="7.90" fill="#57b777" opacity="0.54"/>
<rect x="173.20" y="371.30" width="4.30" height="7.90" fill="#57b777" opacity="0.90"/>
<rect x="178.00" y="371.30" width="1.30" height="7.90" fill="#57b777" opacity="0.45"/>
<rect x="179.60" y="371.30" width="1.80" height="7.90" fill="#57b777" opacity="0.32"/>
<text x="186.80" y="328.60" font-size="9" fill="#2c2c2c" textLength="12.40" lengthAdjust="spacingAndGlyphs">log</text>
<text x="199.40" y="330.60" font-size="5.4" fill="#2c2c2c">2</text>
<text x="202.60" y="328.60" font-size="9" fill="#2c2c2c" textLength="13.00" lengthAdjust="spacingAndGlyphs">OR</text>
<text x="192.00" y="340.50" font-size="8.8" fill="#2c2c2c" textLength="16.20" lengthAdjust="spacingAndGlyphs">FDR</text>
<text x="192.00" y="366.80" font-size="9" fill="#68c186" textLength="19.20" lengthAdjust="spacingAndGlyphs">6.40</text>
<text x="184.30" y="377.60" font-size="8.8" fill="#68c186" textLength="31.40" lengthAdjust="spacingAndGlyphs">9.2 × 10</text>
<text x="215.40" y="374.00" font-size="6" fill="#68c186" textLength="13.60" lengthAdjust="spacingAndGlyphs">−304</text>
<line x1="245.80" y1="296.70" x2="250.70" y2="296.70" stroke="#606165" stroke-width="0.6"/>
<line x1="247.10" y1="295.60" x2="247.10" y2="297.80" stroke="#606165" stroke-width="0.45"/>
<rect x="248.20" y="292.20" width="2.50" height="9.00" fill="#606165"/>
<line x1="293.70" y1="296.70" x2="305.70" y2="296.70" stroke="#606165" stroke-width="0.6"/>
<line x1="295.00" y1="295.60" x2="295.00" y2="297.80" stroke="#606165" stroke-width="0.45"/>
<rect x="293.80" y="292.20" width="1.40" height="9.00" fill="#606165"/>
<rect x="296.20" y="292.20" width="1.60" height="9.00" fill="#606165"/>
<rect x="299.30" y="295.20" width="0.40" height="3.00" fill="#606165"/>
<rect x="301.50" y="295.20" width="0.40" height="3.00" fill="#606165"/>
<rect x="303.50" y="295.20" width="0.40" height="3.00" fill="#606165"/>
<rect x="305.40" y="292.50" width="0.55" height="8.40" fill="#606165"/>
<path d="M305.70 296.70V301.80H300.10" fill="none" stroke="#606165" stroke-width="0.7"/>
<path d="M298.30 301.80l2.8 -1.5v3z" fill="#606165"/>
<text x="275.00" y="311.30" font-size="6.6" fill="#333" textLength="46.20" lengthAdjust="spacingAndGlyphs">2410137M14Rik</text>
<line x1="325.30" y1="296.70" x2="335.00" y2="296.70" stroke="#606165" stroke-width="0.6"/>
<line x1="326.60" y1="295.60" x2="326.60" y2="297.80" stroke="#606165" stroke-width="0.45"/>
<rect x="325.80" y="292.20" width="2.00" height="9.00" fill="#606165"/>
<rect x="329.40" y="292.20" width="1.80" height="9.00" fill="#606165"/>
<rect x="332.00" y="292.20" width="3.00" height="9.00" fill="#606165"/>
<path d="M335.00 296.70V303.70H329.60" fill="none" stroke="#606165" stroke-width="0.7"/>
<path d="M327.80 303.70l2.8 -1.5v3z" fill="#606165"/>
<text x="320.30" y="286.70" font-size="6.8" fill="#333" textLength="19.60" lengthAdjust="spacingAndGlyphs">H2-M5</text>
<line x1="344.20" y1="284.70" x2="415.00" y2="284.70" stroke="#777" stroke-width="0.6"/>
<line x1="344.20" y1="283.00" x2="344.20" y2="286.40" stroke="#777" stroke-width="0.6"/>
<line x1="415.00" y1="283.00" x2="415.00" y2="286.40" stroke="#777" stroke-width="0.6"/>
<text x="370.50" y="280.30" font-size="7.3" fill="#2c2c2c" textLength="18.80" lengthAdjust="spacingAndGlyphs">20 kb</text>
<line x1="376.30" y1="296.70" x2="410.00" y2="296.70" stroke="#606165" stroke-width="0.6"/>
<line x1="377.60" y1="295.60" x2="377.60" y2="297.80" stroke="#606165" stroke-width="0.45"/>
<line x1="380.20" y1="295.60" x2="380.20" y2="297.80" stroke="#606165" stroke-width="0.45"/>
<line x1="382.80" y1="295.60" x2="382.80" y2="297.80" stroke="#606165" stroke-width="0.45"/>
<line x1="385.40" y1="295.60" x2="385.40" y2="297.80" stroke="#606165" stroke-width="0.45"/>
<line x1="388.00" y1="295.60" x2="388.00" y2="297.80" stroke="#606165" stroke-width="0.45"/>
<line x1="390.60" y1="295.60" x2="390.60" y2="297.80" stroke="#606165" stroke-width="0.45"/>
<line x1="393.20" y1="295.60" x2="393.20" y2="297.80" stroke="#606165" stroke-width="0.45"/>
<line x1="395.80" y1="295.60" x2="395.80" y2="297.80" stroke="#606165" stroke-width="0.45"/>
<line x1="398.40" y1="295.60" x2="398.40" y2="297.80" stroke="#606165" stroke-width="0.45"/>
<line x1="401.00" y1="295.60" x2="401.00" y2="297.80" stroke="#606165" stroke-width="0.45"/>
<line x1="403.60" y1="295.60" x2="403.60" y2="297.80" stroke="#606165" stroke-width="0.45"/>
<line x1="406.20" y1="295.60" x2="406.20" y2="297.80" stroke="#606165" stroke-width="0.45"/>
<line x1="408.80" y1="295.60" x2="408.80" y2="297.80" stroke="#606165" stroke-width="0.45"/>
<rect x="380.05" y="292.70" width="0.70" height="8.00" fill="#606165"/>
<rect x="382.00" y="292.70" width="1.00" height="8.00" fill="#606165"/>
<rect x="383.85" y="292.70" width="0.70" height="8.00" fill="#606165"/>
<rect x="388.30" y="293.30" width="1.70" height="6.80" fill="#606165"/>
<rect x="392.95" y="292.70" width="0.70" height="8.00" fill="#606165"/>
<rect x="404.20" y="292.80" width="5.80" height="7.80" fill="#606165"/>
<path d="M376.30 298.70V290.60H381.30" fill="none" stroke="#4a4b4f" stroke-width="0.8"/>
<path d="M384.00 290.60l-3.00 -1.65v3.30z" fill="#4a4b4f"/>
<text x="381.70" y="312.00" font-size="8.6" fill="#3b8bd2" textLength="22.60" lengthAdjust="spacingAndGlyphs">Zfp57</text>
<text x="241.50" y="328.60" font-size="7" fill="#333" text-anchor="middle">+</text>
<text x="241.50" y="340.20" font-size="7" fill="#333" text-anchor="middle">−</text>
<text x="241.50" y="364.40" font-size="7" fill="#333" text-anchor="middle">+</text>
<text x="241.50" y="376.00" font-size="7" fill="#333" text-anchor="middle">−</text>
<line x1="246.20" y1="332.60" x2="414.50" y2="332.60" stroke="#7a7a7a" stroke-width="0.7"/>
<line x1="417.00" y1="332.60" x2="451.00" y2="332.60" stroke="#7a7a7a" stroke-width="0.7"/>
<line x1="246.20" y1="368.30" x2="414.50" y2="368.30" stroke="#7a7a7a" stroke-width="0.7"/>
<line x1="417.00" y1="368.30" x2="451.00" y2="368.30" stroke="#7a7a7a" stroke-width="0.7"/>
<rect x="257.30" y="322.30" width="0.50" height="7.90" fill="#b4b6b9" opacity="0.70"/>
<rect x="262.00" y="322.30" width="5.80" height="7.90" fill="#b4b6b9" opacity="0.82"/>
<rect x="267.13" y="322.30" width="0.67" height="7.90" fill="#b4b6b9" opacity="0.14"/>
<rect x="269.50" y="322.30" width="7.50" height="7.90" fill="#b4b6b9" opacity="0.82"/>
<rect x="269.50" y="322.30" width="1.23" height="7.90" fill="#b4b6b9" opacity="0.24"/>
<rect x="271.26" y="322.30" width="0.50" height="7.90" fill="#ffffff" opacity="0.27"/>
<rect x="271.51" y="322.30" width="1.67" height="7.90" fill="#b4b6b9" opacity="0.23"/>
<rect x="273.18" y="322.30" width="1.34" height="7.90" fill="#b4b6b9" opacity="0.15"/>
<rect x="275.45" y="322.30" width="0.50" height="7.90" fill="#ffffff" opacity="0.21"/>
<rect x="279.20" y="322.30" width="10.30" height="7.90" fill="#b4b6b9" opacity="0.82"/>
<rect x="279.20" y="322.30" width="0.94" height="7.90" fill="#b4b6b9" opacity="0.24"/>
<rect x="281.61" y="322.30" width="0.50" height="7.90" fill="#ffffff" opacity="0.24"/>
<rect x="281.86" y="322.30" width="0.90" height="7.90" fill="#b4b6b9" opacity="0.14"/>
<rect x="287.38" y="322.30" width="0.79" height="7.90" fill="#b4b6b9" opacity="0.27"/>
<rect x="288.17" y="322.30" width="1.33" height="7.90" fill="#b4b6b9" opacity="0.25"/>
<rect x="291.20" y="322.30" width="30.80" height="7.90" fill="#b4b6b9" opacity="0.82"/>
<rect x="291.20" y="322.30" width="0.74" height="7.90" fill="#b4b6b9" opacity="0.24"/>
<rect x="293.78" y="322.30" width="0.94" height="7.90" fill="#b4b6b9" opacity="0.24"/>
<rect x="294.72" y="322.30" width="1.00" height="7.90" fill="#b4b6b9" opacity="0.19"/>
<rect x="297.10" y="322.30" width="0.50" height="7.90" fill="#ffffff" opacity="0.43"/>
<rect x="298.42" y="322.30" width="1.66" height="7.90" fill="#b4b6b9" opacity="0.15"/>
<rect x="300.08" y="322.30" width="1.33" height="7.90" fill="#b4b6b9" opacity="0.15"/>
<rect x="302.62" y="322.30" width="0.50" height="7.90" fill="#ffffff" opacity="0.22"/>
<rect x="302.87" y="322.30" width="0.87" height="7.90" fill="#b4b6b9" opacity="0.19"/>
<rect x="305.65" y="322.30" width="1.40" height="7.90" fill="#b4b6b9" opacity="0.24"/>
<rect x="308.98" y="322.30" width="0.50" height="7.90" fill="#ffffff" opacity="0.81"/>
<rect x="310.26" y="322.30" width="0.50" height="7.90" fill="#ffffff" opacity="0.25"/>
<rect x="312.16" y="322.30" width="0.74" height="7.90" fill="#b4b6b9" opacity="0.14"/>
<rect x="313.62" y="322.30" width="0.50" height="7.90" fill="#ffffff" opacity="0.23"/>
<rect x="314.91" y="322.30" width="0.50" height="7.90" fill="#ffffff" opacity="0.37"/>
<rect x="318.84" y="322.30" width="0.50" height="7.90" fill="#ffffff" opacity="0.26"/>
<rect x="319.09" y="322.30" width="1.74" height="7.90" fill="#b4b6b9" opacity="0.13"/>
<rect x="320.84" y="322.30" width="0.79" height="7.90" fill="#b4b6b9" opacity="0.22"/>
<rect x="321.51" y="322.30" width="0.60" height="7.90" fill="#b4b6b9" opacity="0.29"/>
<rect x="324.50" y="322.30" width="32.20" height="7.90" fill="#b4b6b9" opacity="0.85"/>
<rect x="326.12" y="322.30" width="0.50" height="7.90" fill="#ffffff" opacity="0.24"/>
<rect x="328.03" y="322.30" width="0.50" height="7.90" fill="#ffffff" opacity="0.37"/>
<rect x="328.28" y="322.30" width="1.73" height="7.90" fill="#b4b6b9" opacity="0.16"/>
<rect x="330.01" y="322.30" width="1.05" height="7.90" fill="#b4b6b9" opacity="0.17"/>
<rect x="332.00" y="322.30" width="1.73" height="7.90" fill="#b4b6b9" opacity="0.26"/>
<rect x="333.73" y="322.30" width="0.89" height="7.90" fill="#b4b6b9" opacity="0.21"/>
<rect x="336.44" y="322.30" width="0.50" height="7.90" fill="#ffffff" opacity="0.29"/>
<rect x="336.69" y="322.30" width="1.35" height="7.90" fill="#b4b6b9" opacity="0.24"/>
<rect x="338.04" y="322.30" width="1.13" height="7.90" fill="#b4b6b9" opacity="0.30"/>
<rect x="339.18" y="322.30" width="1.25" height="7.90" fill="#b4b6b9" opacity="0.12"/>
<rect x="340.96" y="322.30" width="0.50" height="7.90" fill="#ffffff" opacity="0.37"/>
<rect x="342.76" y="322.30" width="1.25" height="7.90" fill="#b4b6b9" opacity="0.14"/>
<rect x="344.51" y="322.30" width="0.50" height="7.90" fill="#ffffff" opacity="0.41"/>
<rect x="347.11" y="322.30" width="0.50" height="7.90" fill="#ffffff" opacity="0.29"/>
<rect x="352.69" y="322.30" width="0.50" height="7.90" fill="#ffffff" opacity="0.40"/>
<rect x="353.91" y="322.30" width="0.50" height="7.90" fill="#ffffff" opacity="0.29"/>
<rect x="354.16" y="322.30" width="1.71" height="7.90" fill="#b4b6b9" opacity="0.25"/>
<rect x="357.50" y="322.30" width="4.20" height="7.90" fill="#b4b6b9" opacity="0.85"/>
<rect x="359.73" y="322.30" width="1.14" height="7.90" fill="#b4b6b9" opacity="0.17"/>
<rect x="363.80" y="322.30" width="16.20" height="7.90" fill="#b4b6b9" opacity="0.85"/>
<rect x="363.80" y="322.30" width="1.29" height="7.90" fill="#b4b6b9" opacity="0.29"/>
<rect x="365.09" y="322.30" width="0.98" height="7.90" fill="#b4b6b9" opacity="0.25"/>
<rect x="367.29" y="322.30" width="0.50" height="7.90" fill="#ffffff" opacity="0.63"/>
<rect x="370.39" y="322.30" width="1.72" height="7.90" fill="#b4b6b9" opacity="0.19"/>
<rect x="373.78" y="322.30" width="0.50" height="7.90" fill="#ffffff" opacity="0.42"/>
<rect x="374.03" y="322.30" width="0.80" height="7.90" fill="#b4b6b9" opacity="0.22"/>
<rect x="376.69" y="322.30" width="1.31" height="7.90" fill="#b4b6b9" opacity="0.23"/>
<rect x="378.76" y="322.30" width="0.50" height="7.90" fill="#ffffff" opacity="0.32"/>
<rect x="383.00" y="322.30" width="2.80" height="7.90" fill="#b4b6b9" opacity="0.90"/>
<rect x="386.70" y="322.30" width="3.00" height="7.90" fill="#b4b6b9" opacity="0.85"/>
<rect x="395.00" y="322.30" width="0.80" height="7.90" fill="#b4b6b9" opacity="0.70"/>
<rect x="396.40" y="322.30" width="1.10" height="7.90" fill="#b4b6b9" opacity="0.60"/>
<rect x="398.50" y="322.30" width="1.10" height="7.90" fill="#b4b6b9" opacity="0.50"/>
<rect x="402.00" y="322.30" width="1.20" height="7.90" fill="#b4b6b9" opacity="0.50"/>
<rect x="404.30" y="322.30" width="1.30" height="7.90" fill="#b4b6b9" opacity="0.50"/>
<rect x="406.70" y="322.30" width="0.90" height="7.90" fill="#b4b6b9" opacity="0.50"/>
<rect x="408.20" y="322.30" width="1.00" height="7.90" fill="#b4b6b9" opacity="0.50"/>
<rect x="409.80" y="322.30" width="1.00" height="7.90" fill="#b4b6b9" opacity="0.45"/>
<rect x="247.50" y="335.30" width="0.50" height="8.10" fill="#b4b6b9" opacity="0.40"/>
<rect x="253.20" y="335.30" width="0.60" height="8.10" fill="#b4b6b9" opacity="0.50"/>
<rect x="259.20" y="335.30" width="8.60" height="8.10" fill="#b4b6b9" opacity="0.85"/>
<rect x="259.20" y="335.30" width="0.82" height="8.10" fill="#b4b6b9" opacity="0.23"/>
<rect x="261.00" y="335.30" width="0.50" height="8.10" fill="#ffffff" opacity="0.40"/>
<rect x="263.19" y="335.30" width="0.50" height="8.10" fill="#ffffff" opacity="0.35"/>
<rect x="263.44" y="335.30" width="0.69" height="8.10" fill="#b4b6b9" opacity="0.16"/>
<rect x="264.79" y="335.30" width="0.50" height="8.10" fill="#ffffff" opacity="0.38"/>
<rect x="267.19" y="335.30" width="0.50" height="8.10" fill="#ffffff" opacity="0.23"/>
<rect x="269.50" y="335.30" width="7.50" height="8.10" fill="#b4b6b9" opacity="0.82"/>
<rect x="271.11" y="335.30" width="0.50" height="8.10" fill="#ffffff" opacity="0.85"/>
<rect x="271.96" y="335.30" width="0.50" height="8.10" fill="#ffffff" opacity="0.29"/>
<rect x="275.85" y="335.30" width="1.15" height="8.10" fill="#b4b6b9" opacity="0.24"/>
<rect x="279.50" y="335.30" width="15.00" height="8.10" fill="#b4b6b9" opacity="0.82"/>
<rect x="279.50" y="335.30" width="1.82" height="8.10" fill="#b4b6b9" opacity="0.28"/>
<rect x="286.10" y="335.30" width="0.50" height="8.10" fill="#ffffff" opacity="0.75"/>
<rect x="289.08" y="335.30" width="0.68" height="8.10" fill="#b4b6b9" opacity="0.23"/>
<rect x="289.75" y="335.30" width="1.47" height="8.10" fill="#b4b6b9" opacity="0.29"/>
<rect x="291.22" y="335.30" width="1.08" height="8.10" fill="#b4b6b9" opacity="0.19"/>
<rect x="292.30" y="335.30" width="1.36" height="8.10" fill="#b4b6b9" opacity="0.18"/>
<rect x="295.30" y="335.30" width="13.40" height="8.10" fill="#b4b6b9" opacity="0.82"/>
<rect x="295.30" y="335.30" width="1.54" height="8.10" fill="#b4b6b9" opacity="0.15"/>
<rect x="299.99" y="335.30" width="0.50" height="8.10" fill="#ffffff" opacity="0.24"/>
<rect x="300.24" y="335.30" width="1.53" height="8.10" fill="#b4b6b9" opacity="0.26"/>
<rect x="301.78" y="335.30" width="1.18" height="8.10" fill="#b4b6b9" opacity="0.30"/>
<rect x="303.71" y="335.30" width="1.86" height="8.10" fill="#b4b6b9" opacity="0.20"/>
<rect x="305.58" y="335.30" width="1.00" height="8.10" fill="#b4b6b9" opacity="0.14"/>
<rect x="306.58" y="335.30" width="1.60" height="8.10" fill="#b4b6b9" opacity="0.15"/>
<rect x="311.20" y="335.30" width="11.60" height="8.10" fill="#b4b6b9" opacity="0.50"/>
<rect x="311.20" y="335.30" width="1.10" height="8.10" fill="#b4b6b9" opacity="0.27"/>
<rect x="312.30" y="335.30" width="0.88" height="8.10" fill="#b4b6b9" opacity="0.23"/>
<rect x="313.18" y="335.30" width="0.66" height="8.10" fill="#b4b6b9" opacity="0.17"/>
<rect x="314.59" y="335.30" width="0.50" height="8.10" fill="#ffffff" opacity="0.54"/>
<rect x="314.84" y="335.30" width="1.51" height="8.10" fill="#b4b6b9" opacity="0.21"/>
<rect x="317.74" y="335.30" width="0.50" height="8.10" fill="#ffffff" opacity="0.25"/>
<rect x="318.82" y="335.30" width="0.50" height="8.10" fill="#ffffff" opacity="0.84"/>
<rect x="320.26" y="335.30" width="0.50" height="8.10" fill="#ffffff" opacity="0.65"/>
<rect x="321.11" y="335.30" width="0.50" height="8.10" fill="#ffffff" opacity="0.52"/>
<rect x="322.45" y="335.30" width="0.60" height="8.10" fill="#b4b6b9" opacity="0.13"/>
<rect x="324.50" y="335.30" width="12.50" height="8.10" fill="#b4b6b9" opacity="0.85"/>
<rect x="325.84" y="335.30" width="0.50" height="8.10" fill="#ffffff" opacity="0.35"/>
<rect x="326.09" y="335.30" width="0.67" height="8.10" fill="#b4b6b9" opacity="0.26"/>
<rect x="326.76" y="335.30" width="0.66" height="8.10" fill="#b4b6b9" opacity="0.21"/>
<rect x="327.42" y="335.30" width="1.44" height="8.10" fill="#b4b6b9" opacity="0.30"/>
<rect x="328.86" y="335.30" width="1.14" height="8.10" fill="#b4b6b9" opacity="0.26"/>
<rect x="331.63" y="335.30" width="0.50" height="8.10" fill="#ffffff" opacity="0.26"/>
<rect x="332.65" y="335.30" width="1.71" height="8.10" fill="#b4b6b9" opacity="0.19"/>
<rect x="335.80" y="335.30" width="0.50" height="8.10" fill="#ffffff" opacity="0.27"/>
<rect x="338.70" y="335.30" width="17.10" height="8.10" fill="#b4b6b9" opacity="0.82"/>
<rect x="338.70" y="335.30" width="1.46" height="8.10" fill="#b4b6b9" opacity="0.29"/>
<rect x="340.77" y="335.30" width="0.50" height="8.10" fill="#ffffff" opacity="0.28"/>
<rect x="341.02" y="335.30" width="1.09" height="8.10" fill="#b4b6b9" opacity="0.15"/>
<rect x="343.91" y="335.30" width="0.69" height="8.10" fill="#b4b6b9" opacity="0.22"/>
<rect x="344.60" y="335.30" width="0.70" height="8.10" fill="#b4b6b9" opacity="0.26"/>
<rect x="345.31" y="335.30" width="1.58" height="8.10" fill="#b4b6b9" opacity="0.30"/>
<rect x="346.88" y="335.30" width="0.62" height="8.10" fill="#b4b6b9" opacity="0.24"/>
<rect x="348.43" y="335.30" width="1.05" height="8.10" fill="#b4b6b9" opacity="0.25"/>
<rect x="350.52" y="335.30" width="0.50" height="8.10" fill="#ffffff" opacity="0.28"/>
<rect x="350.77" y="335.30" width="1.59" height="8.10" fill="#b4b6b9" opacity="0.26"/>
<rect x="353.41" y="335.30" width="0.50" height="8.10" fill="#ffffff" opacity="0.27"/>
<rect x="357.50" y="335.30" width="5.00" height="8.10" fill="#b4b6b9" opacity="0.85"/>
<rect x="361.56" y="335.30" width="0.94" height="8.10" fill="#b4b6b9" opacity="0.14"/>
<rect x="364.70" y="335.30" width="12.00" height="8.10" fill="#b4b6b9" opacity="0.82"/>
<rect x="369.01" y="335.30" width="1.15" height="8.10" fill="#b4b6b9" opacity="0.14"/>
<rect x="371.10" y="335.30" width="0.50" height="8.10" fill="#ffffff" opacity="0.45"/>
<rect x="372.38" y="335.30" width="1.15" height="8.10" fill="#b4b6b9" opacity="0.20"/>
<rect x="374.36" y="335.30" width="1.14" height="8.10" fill="#b4b6b9" opacity="0.22"/>
<rect x="375.50" y="335.30" width="0.86" height="8.10" fill="#b4b6b9" opacity="0.17"/>
<rect x="377.50" y="335.30" width="1.50" height="8.10" fill="#b4b6b9" opacity="0.30"/>
<rect x="381.70" y="335.30" width="0.70" height="8.10" fill="#b4b6b9" opacity="0.50"/>
<rect x="387.30" y="335.30" width="0.70" height="8.10" fill="#b4b6b9" opacity="0.50"/>
<rect x="389.70" y="335.30" width="1.10" height="8.10" fill="#b4b6b9" opacity="0.50"/>
<rect x="392.50" y="335.30" width="1.50" height="8.10" fill="#b4b6b9" opacity="0.50"/>
<rect x="399.00" y="335.30" width="1.80" height="8.10" fill="#b4b6b9" opacity="0.50"/>
<rect x="402.00" y="335.30" width="1.00" height="8.10" fill="#b4b6b9" opacity="0.45"/>
<rect x="404.20" y="335.30" width="0.80" height="8.10" fill="#b4b6b9" opacity="0.45"/>
<rect x="407.30" y="335.30" width="0.70" height="8.10" fill="#b4b6b9" opacity="0.50"/>
<rect x="410.00" y="335.30" width="1.30" height="8.10" fill="#b4b6b9" opacity="0.50"/>
<rect x="250.00" y="358.00" width="0.70" height="8.00" fill="#1f77c4" opacity="0.80"/>
<rect x="270.30" y="358.00" width="0.70" height="8.00" fill="#1f77c4" opacity="0.90"/>
<rect x="279.20" y="358.00" width="1.00" height="8.00" fill="#1f77c4" opacity="0.80"/>
<rect x="280.20" y="358.00" width="1.40" height="8.00" fill="#1f77c4"/>
<rect x="287.30" y="358.00" width="0.70" height="8.00" fill="#1f77c4" opacity="0.90"/>
<rect x="299.50" y="358.00" width="1.20" height="8.00" fill="#1f77c4" opacity="0.40"/>
<rect x="303.70" y="358.00" width="0.70" height="8.00" fill="#1f77c4" opacity="0.70"/>
<rect x="304.40" y="358.00" width="1.40" height="8.00" fill="#1f77c4"/>
<rect x="307.30" y="358.00" width="0.60" height="8.00" fill="#1f77c4" opacity="0.60"/>
<rect x="308.00" y="358.00" width="1.00" height="8.00" fill="#1f77c4" opacity="0.90"/>
<rect x="331.50" y="358.00" width="25.00" height="8.00" fill="#1f77c4"/>
<rect x="356.90" y="358.00" width="4.90" height="8.00" fill="#1f77c4"/>
<rect x="362.30" y="358.00" width="18.00" height="8.00" fill="#1f77c4"/>
<rect x="383.00" y="358.00" width="1.60" height="8.00" fill="#1f77c4"/>
<rect x="385.00" y="358.00" width="1.60" height="8.00" fill="#1f77c4" opacity="0.90"/>
<rect x="387.00" y="358.00" width="1.40" height="8.00" fill="#1f77c4"/>
<rect x="388.80" y="358.00" width="2.50" height="8.00" fill="#1f77c4" opacity="0.90"/>
<rect x="398.70" y="358.00" width="0.80" height="8.00" fill="#1f77c4" opacity="0.80"/>
<rect x="403.00" y="358.00" width="0.80" height="8.00" fill="#1f77c4" opacity="0.80"/>
<rect x="288.30" y="371.30" width="0.70" height="7.90" fill="#1f77c4" opacity="0.50"/>
<rect x="289.20" y="371.30" width="1.50" height="7.90" fill="#1f77c4" opacity="0.90"/>
<rect x="300.30" y="371.30" width="0.70" height="7.90" fill="#1f77c4" opacity="0.50"/>
<rect x="301.10" y="371.30" width="0.90" height="7.90" fill="#1f77c4" opacity="0.85"/>
<rect x="311.20" y="371.30" width="0.70" height="7.90" fill="#1f77c4" opacity="0.90"/>
<rect x="318.20" y="371.30" width="0.70" height="7.90" fill="#1f77c4" opacity="0.90"/>
<rect x="332.30" y="371.30" width="0.70" height="7.90" fill="#1f77c4" opacity="0.80"/>
<rect x="335.30" y="371.30" width="0.70" height="7.90" fill="#1f77c4" opacity="0.80"/>
<rect x="344.20" y="371.30" width="0.70" height="7.90" fill="#1f77c4" opacity="0.85"/>
<rect x="368.30" y="371.30" width="0.70" height="7.90" fill="#1f77c4" opacity="0.85"/>
<text x="421.20" y="328.80" font-size="9" fill="#2c2c2c" textLength="12.40" lengthAdjust="spacingAndGlyphs">log</text>
<text x="433.80" y="330.80" font-size="5.4" fill="#2c2c2c">2</text>
<text x="437.00" y="328.80" font-size="9" fill="#2c2c2c" textLength="12.40" lengthAdjust="spacingAndGlyphs">OR</text>
<text x="425.80" y="340.50" font-size="8.8" fill="#2c2c2c" textLength="15.60" lengthAdjust="spacingAndGlyphs">FDR</text>
<text x="425.80" y="366.70" font-size="9" fill="#3b8bd2" textLength="17.60" lengthAdjust="spacingAndGlyphs">5.32</text>
<text x="432.20" y="376.40" font-size="8.8" fill="#3b8bd2">0</text>
<line x1="482.60" y1="296.70" x2="485.30" y2="296.70" stroke="#606165" stroke-width="0.6"/>
<line x1="483.90" y1="295.60" x2="483.90" y2="297.80" stroke="#606165" stroke-width="0.45"/>
<rect x="484.20" y="292.60" width="1.10" height="8.20" fill="#606165"/>
<line x1="489.20" y1="306.20" x2="596.00" y2="306.20" stroke="#606165" stroke-width="0.6"/>
<line x1="490.50" y1="305.10" x2="490.50" y2="307.30" stroke="#606165" stroke-width="0.45"/>
<line x1="492.80" y1="305.10" x2="492.80" y2="307.30" stroke="#606165" stroke-width="0.45"/>
<line x1="495.10" y1="305.10" x2="495.10" y2="307.30" stroke="#606165" stroke-width="0.45"/>
<line x1="497.40" y1="305.10" x2="497.40" y2="307.30" stroke="#606165" stroke-width="0.45"/>
<line x1="499.70" y1="305.10" x2="499.70" y2="307.30" stroke="#606165" stroke-width="0.45"/>
<line x1="502.00" y1="305.10" x2="502.00" y2="307.30" stroke="#606165" stroke-width="0.45"/>
<line x1="504.30" y1="305.10" x2="504.30" y2="307.30" stroke="#606165" stroke-width="0.45"/>
<line x1="506.60" y1="305.10" x2="506.60" y2="307.30" stroke="#606165" stroke-width="0.45"/>
<line x1="508.90" y1="305.10" x2="508.90" y2="307.30" stroke="#606165" stroke-width="0.45"/>
<line x1="511.20" y1="305.10" x2="511.20" y2="307.30" stroke="#606165" stroke-width="0.45"/>
<line x1="513.50" y1="305.10" x2="513.50" y2="307.30" stroke="#606165" stroke-width="0.45"/>
<line x1="515.80" y1="305.10" x2="515.80" y2="307.30" stroke="#606165" stroke-width="0.45"/>
<line x1="518.10" y1="305.10" x2="518.10" y2="307.30" stroke="#606165" stroke-width="0.45"/>
<line x1="520.40" y1="305.10" x2="520.40" y2="307.30" stroke="#606165" stroke-width="0.45"/>
<line x1="522.70" y1="305.10" x2="522.70" y2="307.30" stroke="#606165" stroke-width="0.45"/>
<line x1="525.00" y1="305.10" x2="525.00" y2="307.30" stroke="#606165" stroke-width="0.45"/>
<line x1="527.30" y1="305.10" x2="527.30" y2="307.30" stroke="#606165" stroke-width="0.45"/>
<line x1="529.60" y1="305.10" x2="529.60" y2="307.30" stroke="#606165" stroke-width="0.45"/>
<line x1="531.90" y1="305.10" x2="531.90" y2="307.30" stroke="#606165" stroke-width="0.45"/>
<line x1="534.20" y1="305.10" x2="534.20" y2="307.30" stroke="#606165" stroke-width="0.45"/>
<line x1="536.50" y1="305.10" x2="536.50" y2="307.30" stroke="#606165" stroke-width="0.45"/>
<line x1="538.80" y1="305.10" x2="538.80" y2="307.30" stroke="#606165" stroke-width="0.45"/>
<line x1="541.10" y1="305.10" x2="541.10" y2="307.30" stroke="#606165" stroke-width="0.45"/>
<line x1="543.40" y1="305.10" x2="543.40" y2="307.30" stroke="#606165" stroke-width="0.45"/>
<line x1="545.70" y1="305.10" x2="545.70" y2="307.30" stroke="#606165" stroke-width="0.45"/>
<line x1="548.00" y1="305.10" x2="548.00" y2="307.30" stroke="#606165" stroke-width="0.45"/>
<line x1="550.30" y1="305.10" x2="550.30" y2="307.30" stroke="#606165" stroke-width="0.45"/>
<line x1="552.60" y1="305.10" x2="552.60" y2="307.30" stroke="#606165" stroke-width="0.45"/>
<line x1="554.90" y1="305.10" x2="554.90" y2="307.30" stroke="#606165" stroke-width="0.45"/>
<line x1="557.20" y1="305.10" x2="557.20" y2="307.30" stroke="#606165" stroke-width="0.45"/>
<line x1="559.50" y1="305.10" x2="559.50" y2="307.30" stroke="#606165" stroke-width="0.45"/>
<line x1="561.80" y1="305.10" x2="561.80" y2="307.30" stroke="#606165" stroke-width="0.45"/>
<line x1="564.10" y1="305.10" x2="564.10" y2="307.30" stroke="#606165" stroke-width="0.45"/>
<line x1="566.40" y1="305.10" x2="566.40" y2="307.30" stroke="#606165" stroke-width="0.45"/>
<line x1="568.70" y1="305.10" x2="568.70" y2="307.30" stroke="#606165" stroke-width="0.45"/>
<line x1="571.00" y1="305.10" x2="571.00" y2="307.30" stroke="#606165" stroke-width="0.45"/>
<line x1="573.30" y1="305.10" x2="573.30" y2="307.30" stroke="#606165" stroke-width="0.45"/>
<line x1="575.60" y1="305.10" x2="575.60" y2="307.30" stroke="#606165" stroke-width="0.45"/>
<line x1="577.90" y1="305.10" x2="577.90" y2="307.30" stroke="#606165" stroke-width="0.45"/>
<line x1="580.20" y1="305.10" x2="580.20" y2="307.30" stroke="#606165" stroke-width="0.45"/>
<line x1="582.50" y1="305.10" x2="582.50" y2="307.30" stroke="#606165" stroke-width="0.45"/>
<line x1="584.80" y1="305.10" x2="584.80" y2="307.30" stroke="#606165" stroke-width="0.45"/>
<line x1="587.10" y1="305.10" x2="587.10" y2="307.30" stroke="#606165" stroke-width="0.45"/>
<line x1="589.40" y1="305.10" x2="589.40" y2="307.30" stroke="#606165" stroke-width="0.45"/>
<line x1="591.70" y1="305.10" x2="591.70" y2="307.30" stroke="#606165" stroke-width="0.45"/>
<line x1="594.00" y1="305.10" x2="594.00" y2="307.30" stroke="#606165" stroke-width="0.45"/>
<rect x="489.20" y="303.20" width="6.10" height="6.00" fill="#606165"/>
<rect x="497.50" y="302.30" width="0.50" height="7.80" fill="#606165"/>
<rect x="500.04" y="302.00" width="1.00" height="8.40" fill="#606165"/>
<rect x="504.29" y="302.60" width="0.60" height="7.20" fill="#606165"/>
<rect x="508.09" y="302.00" width="0.60" height="8.40" fill="#606165"/>
<rect x="513.24" y="302.60" width="0.50" height="7.20" fill="#606165"/>
<rect x="515.85" y="302.30" width="1.00" height="7.80" fill="#606165"/>
<rect x="518.66" y="302.60" width="0.50" height="7.20" fill="#606165"/>
<rect x="520.93" y="303.40" width="1.00" height="5.60" fill="#606165"/>
<rect x="523.72" y="302.30" width="0.80" height="7.80" fill="#606165"/>
<rect x="527.02" y="302.00" width="0.60" height="8.40" fill="#606165"/>
<rect x="531.39" y="302.60" width="1.00" height="7.20" fill="#606165"/>
<rect x="536.45" y="303.40" width="0.60" height="5.60" fill="#606165"/>
<rect x="539.05" y="302.30" width="0.60" height="7.80" fill="#606165"/>
<rect x="541.34" y="302.00" width="1.00" height="8.40" fill="#606165"/>
<rect x="544.17" y="303.40" width="1.00" height="5.60" fill="#606165"/>
<rect x="546.95" y="302.30" width="0.60" height="7.80" fill="#606165"/>
<rect x="549.27" y="303.40" width="0.80" height="5.60" fill="#606165"/>
<rect x="552.48" y="302.30" width="1.00" height="7.80" fill="#606165"/>
<rect x="556.62" y="302.00" width="0.80" height="8.40" fill="#606165"/>
<rect x="561.75" y="303.40" width="0.50" height="5.60" fill="#606165"/>
<rect x="566.63" y="302.60" width="0.80" height="7.20" fill="#606165"/>
<rect x="569.36" y="303.40" width="0.50" height="5.60" fill="#606165"/>
<rect x="573.64" y="302.30" width="0.50" height="7.80" fill="#606165"/>
<rect x="576.70" y="302.00" width="0.80" height="8.40" fill="#606165"/>
<rect x="579.24" y="303.40" width="0.60" height="5.60" fill="#606165"/>
<rect x="582.77" y="302.60" width="0.50" height="7.20" fill="#606165"/>
<rect x="585.78" y="302.00" width="0.50" height="8.40" fill="#606165"/>
<rect x="588.58" y="302.00" width="0.60" height="8.40" fill="#606165"/>
<rect x="592.21" y="303.40" width="1.00" height="5.60" fill="#606165"/>
<rect x="541.20" y="302.00" width="1.20" height="8.40" fill="#606165"/>
<rect x="537.00" y="302.20" width="0.60" height="8.00" fill="#606165"/>
<rect x="535.60" y="302.20" width="0.60" height="8.00" fill="#606165"/>
<path d="M596.00 306.20V312.60H590.80" fill="none" stroke="#606165" stroke-width="0.7"/>
<path d="M589.00 312.60l2.8 -1.5v3z" fill="#606165"/>
<text x="532.80" y="297.80" font-size="6.8" fill="#333" textLength="19.20" lengthAdjust="spacingAndGlyphs">Usp37</text>
<line x1="596.00" y1="296.70" x2="634.30" y2="296.70" stroke="#606165" stroke-width="0.6"/>
<line x1="597.30" y1="295.60" x2="597.30" y2="297.80" stroke="#606165" stroke-width="0.45"/>
<line x1="599.90" y1="295.60" x2="599.90" y2="297.80" stroke="#606165" stroke-width="0.45"/>
<line x1="602.50" y1="295.60" x2="602.50" y2="297.80" stroke="#606165" stroke-width="0.45"/>
<line x1="605.10" y1="295.60" x2="605.10" y2="297.80" stroke="#606165" stroke-width="0.45"/>
<line x1="607.70" y1="295.60" x2="607.70" y2="297.80" stroke="#606165" stroke-width="0.45"/>
<line x1="610.30" y1="295.60" x2="610.30" y2="297.80" stroke="#606165" stroke-width="0.45"/>
<line x1="612.90" y1="295.60" x2="612.90" y2="297.80" stroke="#606165" stroke-width="0.45"/>
<line x1="615.50" y1="295.60" x2="615.50" y2="297.80" stroke="#606165" stroke-width="0.45"/>
<line x1="618.10" y1="295.60" x2="618.10" y2="297.80" stroke="#606165" stroke-width="0.45"/>
<line x1="620.70" y1="295.60" x2="620.70" y2="297.80" stroke="#606165" stroke-width="0.45"/>
<line x1="623.30" y1="295.60" x2="623.30" y2="297.80" stroke="#606165" stroke-width="0.45"/>
<line x1="625.90" y1="295.60" x2="625.90" y2="297.80" stroke="#606165" stroke-width="0.45"/>
<line x1="628.50" y1="295.60" x2="628.50" y2="297.80" stroke="#606165" stroke-width="0.45"/>
<line x1="631.10" y1="295.60" x2="631.10" y2="297.80" stroke="#606165" stroke-width="0.45"/>
<line x1="633.70" y1="295.60" x2="633.70" y2="297.80" stroke="#606165" stroke-width="0.45"/>
<rect x="612.35" y="292.70" width="0.70" height="8.00" fill="#606165"/>
<rect x="614.85" y="292.70" width="0.70" height="8.00" fill="#606165"/>
<rect x="620.65" y="292.70" width="0.70" height="8.00" fill="#606165"/>
<rect x="622.35" y="292.70" width="0.70" height="8.00" fill="#606165"/>
<rect x="627.35" y="292.70" width="0.70" height="8.00" fill="#606165"/>
<rect x="628.95" y="292.70" width="0.70" height="8.00" fill="#606165"/>
<rect x="631.00" y="294.10" width="3.30" height="5.20" fill="#606165"/>
<path d="M596.00 300.00V290.60H600.90" fill="none" stroke="#4a4b4f" stroke-width="0.8"/>
<path d="M603.60 290.60l-3.00 -1.65v3.30z" fill="#4a4b4f"/>
<line x1="614.80" y1="285.00" x2="645.70" y2="285.00" stroke="#666" stroke-width="0.6"/>
<line x1="614.80" y1="283.30" x2="614.80" y2="286.70" stroke="#666" stroke-width="0.6"/>
<line x1="645.70" y1="283.30" x2="645.70" y2="286.70" stroke="#666" stroke-width="0.6"/>
<text x="621.50" y="280.30" font-size="7.3" fill="#2c2c2c" textLength="18.80" lengthAdjust="spacingAndGlyphs">20 kb</text>
<text x="603.00" y="310.50" font-size="8.6" fill="#e9a93c" textLength="24.30" lengthAdjust="spacingAndGlyphs">Cnot9</text>
<text x="470.80" y="328.60" font-size="7" fill="#333" text-anchor="middle">+</text>
<text x="470.80" y="340.20" font-size="7" fill="#333" text-anchor="middle">−</text>
<text x="470.80" y="364.40" font-size="7" fill="#333" text-anchor="middle">+</text>
<text x="470.80" y="376.00" font-size="7" fill="#333" text-anchor="middle">−</text>
<line x1="476.70" y1="332.60" x2="645.20" y2="332.60" stroke="#7a7a7a" stroke-width="0.7"/>
<line x1="648.00" y1="332.60" x2="681.80" y2="332.60" stroke="#7a7a7a" stroke-width="0.7"/>
<line x1="476.70" y1="368.30" x2="645.20" y2="368.30" stroke="#7a7a7a" stroke-width="0.7"/>
<line x1="648.00" y1="368.30" x2="681.80" y2="368.30" stroke="#7a7a7a" stroke-width="0.7"/>
<rect x="483.00" y="322.30" width="0.60" height="7.90" fill="#8e9094" opacity="0.50"/>
<rect x="485.50" y="322.30" width="0.60" height="7.90" fill="#8e9094" opacity="0.50"/>
<rect x="493.00" y="322.30" width="0.60" height="7.90" fill="#8e9094" opacity="0.50"/>
<rect x="498.40" y="322.30" width="0.60" height="7.90" fill="#8e9094" opacity="0.50"/>
<rect x="515.20" y="322.30" width="0.60" height="7.90" fill="#8e9094" opacity="0.50"/>
<rect x="522.50" y="322.30" width="0.60" height="7.90" fill="#8e9094" opacity="0.50"/>
<rect x="584.00" y="322.30" width="0.60" height="7.90" fill="#8e9094" opacity="0.50"/>
<rect x="588.20" y="322.30" width="0.60" height="7.90" fill="#8e9094" opacity="0.50"/>
<rect x="601.50" y="322.30" width="0.60" height="7.90" fill="#8e9094" opacity="0.50"/>
<rect x="623.20" y="322.30" width="0.60" height="7.90" fill="#8e9094" opacity="0.50"/>
<rect x="630.20" y="322.30" width="0.60" height="7.90" fill="#8e9094" opacity="0.50"/>
<rect x="594.30" y="322.30" width="1.10" height="7.90" fill="#8e9094" opacity="0.63"/>
<rect x="595.80" y="322.30" width="1.80" height="7.90" fill="#8e9094" opacity="0.72"/>
<rect x="597.80" y="322.30" width="1.20" height="7.90" fill="#8e9094" opacity="0.81"/>
<rect x="599.30" y="322.30" width="1.40" height="7.90" fill="#8e9094" opacity="0.63"/>
<rect x="488.00" y="335.30" width="0.60" height="8.10" fill="#8e9094" opacity="0.50"/>
<rect x="494.20" y="335.30" width="0.60" height="8.10" fill="#8e9094" opacity="0.50"/>
<rect x="545.50" y="335.30" width="0.60" height="8.10" fill="#8e9094" opacity="0.50"/>
<rect x="564.20" y="335.30" width="0.60" height="8.10" fill="#8e9094" opacity="0.50"/>
<rect x="580.40" y="335.30" width="0.60" height="8.10" fill="#8e9094" opacity="0.50"/>
<rect x="584.00" y="335.30" width="0.60" height="8.10" fill="#8e9094" opacity="0.50"/>
<rect x="601.00" y="335.30" width="0.60" height="8.10" fill="#8e9094" opacity="0.50"/>
<rect x="606.50" y="335.30" width="0.60" height="8.10" fill="#8e9094" opacity="0.50"/>
<rect x="612.40" y="335.30" width="0.60" height="8.10" fill="#8e9094" opacity="0.50"/>
<rect x="635.40" y="335.30" width="0.60" height="8.10" fill="#8e9094" opacity="0.50"/>
<rect x="596.80" y="335.30" width="1.00" height="8.10" fill="#8e9094" opacity="0.72"/>
<rect x="598.00" y="335.30" width="1.00" height="8.10" fill="#8e9094" opacity="0.63"/>
<rect x="609.00" y="335.30" width="0.60" height="8.10" fill="#8e9094" opacity="0.54"/>
<rect x="610.00" y="335.30" width="0.60" height="8.10" fill="#8e9094" opacity="0.54"/>
<rect x="623.20" y="335.30" width="0.80" height="8.10" fill="#8e9094" opacity="0.63"/>
<rect x="524.70" y="358.00" width="1.30" height="8.00" fill="#e4a22a" opacity="0.75"/>
<rect x="584.00" y="358.00" width="0.70" height="8.00" fill="#e4a22a" opacity="0.80"/>
<rect x="594.00" y="358.00" width="7.00" height="8.00" fill="#e4a22a"/>
<rect x="601.80" y="358.00" width="2.00" height="8.00" fill="#e4a22a" opacity="0.90"/>
<rect x="605.20" y="358.00" width="1.10" height="8.00" fill="#e4a22a" opacity="0.90"/>
<rect x="608.50" y="358.00" width="1.20" height="8.00" fill="#e4a22a" opacity="0.90"/>
<rect x="611.80" y="358.00" width="1.20" height="8.00" fill="#e4a22a" opacity="0.90"/>
<rect x="596.80" y="371.30" width="0.90" height="7.90" fill="#e4a22a" opacity="0.85"/>
<text x="652.20" y="328.80" font-size="9" fill="#2c2c2c" textLength="12.40" lengthAdjust="spacingAndGlyphs">log</text>
<text x="664.80" y="330.80" font-size="5.4" fill="#2c2c2c">2</text>
<text x="668.00" y="328.80" font-size="9" fill="#2c2c2c" textLength="12.40" lengthAdjust="spacingAndGlyphs">OR</text>
<text x="656.80" y="340.50" font-size="8.8" fill="#2c2c2c" textLength="15.60" lengthAdjust="spacingAndGlyphs">FDR</text>
<text x="657.20" y="366.70" font-size="9" fill="#e9a93c" textLength="16.00" lengthAdjust="spacingAndGlyphs">4.27</text>
<text x="645.50" y="377.60" font-size="8.8" fill="#e9a93c" textLength="30.60" lengthAdjust="spacingAndGlyphs">7.2 × 10</text>
<text x="677.20" y="374.00" font-size="6" fill="#e9a93c">−69</text>
</g>
<g id="pd">
<text x="-0.80" y="404.60" font-size="13" fill="#000" font-weight="bold">d</text>
<line x1="44.50" y1="409.95" x2="44.50" y2="527.95" stroke="#6b6b6b" stroke-width="0.7"/>
<line x1="41.40" y1="410.30" x2="44.50" y2="410.30" stroke="#6b6b6b" stroke-width="0.7"/>
<text x="37.20" y="413.20" font-size="8" fill="#333" text-anchor="end">300</text>
<line x1="41.40" y1="429.85" x2="44.50" y2="429.85" stroke="#6b6b6b" stroke-width="0.7"/>
<text x="37.20" y="432.75" font-size="8" fill="#333" text-anchor="end">250</text>
<line x1="41.40" y1="449.40" x2="44.50" y2="449.40" stroke="#6b6b6b" stroke-width="0.7"/>
<text x="37.20" y="452.30" font-size="8" fill="#333" text-anchor="end">200</text>
<line x1="41.40" y1="468.95" x2="44.50" y2="468.95" stroke="#6b6b6b" stroke-width="0.7"/>
<text x="37.20" y="471.85" font-size="8" fill="#333" text-anchor="end">150</text>
<line x1="41.40" y1="488.50" x2="44.50" y2="488.50" stroke="#6b6b6b" stroke-width="0.7"/>
<text x="37.20" y="491.40" font-size="8" fill="#333" text-anchor="end">100</text>
<line x1="41.40" y1="508.05" x2="44.50" y2="508.05" stroke="#6b6b6b" stroke-width="0.7"/>
<text x="37.20" y="510.95" font-size="8" fill="#333" text-anchor="end">50</text>
<line x1="41.40" y1="527.60" x2="44.50" y2="527.60" stroke="#6b6b6b" stroke-width="0.7"/>
<text x="37.20" y="530.50" font-size="8" fill="#333" text-anchor="end">0</text>
<line x1="55.85" y1="532.20" x2="193.95" y2="532.20" stroke="#b9b9b9" stroke-width="0.9"/>
<line x1="56.20" y1="532.20" x2="56.20" y2="534.60" stroke="#8a8a8a" stroke-width="0.7"/>
<text x="56.20" y="545.20" font-size="8.6" fill="#333" text-anchor="middle">−4</text>
<line x1="78.90" y1="532.20" x2="78.90" y2="534.60" stroke="#8a8a8a" stroke-width="0.7"/>
<text x="78.90" y="545.20" font-size="8.6" fill="#333" text-anchor="middle">−2</text>
<line x1="101.70" y1="532.20" x2="101.70" y2="534.60" stroke="#8a8a8a" stroke-width="0.7"/>
<text x="101.70" y="545.20" font-size="8.6" fill="#333" text-anchor="middle">0</text>
<line x1="124.70" y1="532.20" x2="124.70" y2="534.60" stroke="#8a8a8a" stroke-width="0.7"/>
<text x="124.70" y="545.20" font-size="8.6" fill="#333" text-anchor="middle">2</text>
<line x1="147.60" y1="532.20" x2="147.60" y2="534.60" stroke="#8a8a8a" stroke-width="0.7"/>
<text x="147.60" y="545.20" font-size="8.6" fill="#333" text-anchor="middle">4</text>
<line x1="170.60" y1="532.20" x2="170.60" y2="534.60" stroke="#8a8a8a" stroke-width="0.7"/>
<text x="170.60" y="545.20" font-size="8.6" fill="#333" text-anchor="middle">6</text>
<line x1="193.60" y1="532.20" x2="193.60" y2="534.60" stroke="#8a8a8a" stroke-width="0.7"/>
<text x="193.60" y="545.20" font-size="8.6" fill="#333" text-anchor="middle">8</text>
<text x="94.70" y="559.80" font-size="8.8" fill="#333" textLength="59.40" lengthAdjust="spacingAndGlyphs">Odds ratio (log</text>
<text x="154.50" y="561.80" font-size="5.4" fill="#333">2</text>
<text x="158.20" y="559.80" font-size="8.8" fill="#333">)</text>
<g transform="translate(13.30,492.8) rotate(-90)">
<text x="0.00" y="0.00" font-size="8.6" fill="#333" textLength="38.60" lengthAdjust="spacingAndGlyphs">FDR (−log</text>
<text x="39.00" y="1.80" font-size="5.2" fill="#333" textLength="5.40" lengthAdjust="spacingAndGlyphs">10</text>
<text x="44.70" y="0.00" font-size="8.6" fill="#333">)</text>
</g>
<rect x="76.70" y="525.40" width="73.30" height="4.40" fill="#d9dadc" rx="2.2"/>
<g fill="#74c690" fill-opacity="0.5">
<circle cx="159.5" cy="409.7" r="1.9"/>
<circle cx="170.0" cy="409.7" r="1.9"/>
<circle cx="175.3" cy="409.7" r="1.9"/>
<circle cx="172.0" cy="421.7" r="1.9"/>
<circle cx="165.5" cy="427.0" r="1.9"/>
<circle cx="164.7" cy="443.3" r="1.9"/>
<circle cx="165.3" cy="448.0" r="1.9"/>
<circle cx="170.0" cy="454.7" r="1.9"/>
<circle cx="173.7" cy="455.3" r="1.9"/>
<circle cx="170.0" cy="463.7" r="1.9"/>
<circle cx="172.0" cy="463.0" r="1.9"/>
<circle cx="171.7" cy="469.2" r="1.9"/>
<circle cx="166.3" cy="485.0" r="1.9"/>
<circle cx="171.2" cy="485.0" r="1.9"/>
<circle cx="179.2" cy="486.2" r="1.9"/>
<circle cx="171.7" cy="489.3" r="1.9"/>
<circle cx="147.5" cy="491.8" r="1.9"/>
<circle cx="155.8" cy="496.0" r="1.9"/>
<circle cx="161.7" cy="495.7" r="1.9"/>
<circle cx="164.2" cy="496.3" r="1.9"/>
<circle cx="165.8" cy="495.2" r="1.9"/>
<circle cx="174.2" cy="493.5" r="1.9"/>
<circle cx="158.7" cy="501.8" r="1.9"/>
<circle cx="162.0" cy="505.2" r="1.9"/>
<circle cx="163.3" cy="506.3" r="1.9"/>
<circle cx="174.2" cy="501.8" r="1.9"/>
<circle cx="170.8" cy="506.0" r="1.9"/>
<circle cx="133.3" cy="514.0" r="1.9"/>
<circle cx="132.5" cy="518.0" r="1.9"/>
<circle cx="136.3" cy="518.0" r="1.9"/>
<circle cx="150.8" cy="516.0" r="1.9"/>
<circle cx="154.2" cy="514.7" r="1.9"/>
<circle cx="156.7" cy="516.0" r="1.9"/>
<circle cx="159.2" cy="511.0" r="1.9"/>
<circle cx="160.0" cy="516.8" r="1.9"/>
<circle cx="166.7" cy="514.7" r="1.9"/>
<circle cx="149.2" cy="519.3" r="1.9"/>
<circle cx="158.3" cy="519.3" r="1.9"/>
<circle cx="164.2" cy="520.2" r="1.9"/>
<circle cx="167.5" cy="519.3" r="1.9"/>
<circle cx="142.5" cy="521.0" r="1.9"/>
<circle cx="148.3" cy="521.0" r="1.9"/>
<circle cx="151.7" cy="521.8" r="1.9"/>
<circle cx="156.7" cy="521.8" r="1.9"/>
<circle cx="161.7" cy="521.8" r="1.9"/>
<circle cx="165.8" cy="521.8" r="1.9"/>
<circle cx="177.0" cy="520.7" r="1.9"/>
<circle cx="181.2" cy="518.8" r="1.9"/>
<circle cx="197.2" cy="522.3" r="1.9"/>
<circle cx="128.3" cy="522.7" r="1.9"/>
<circle cx="130.0" cy="524.0" r="1.9"/>
<circle cx="133.3" cy="524.3" r="1.9"/>
<circle cx="178.0" cy="525.2" r="1.9"/>
<circle cx="182.0" cy="525.7" r="1.9"/>
<circle cx="168.3" cy="524.7" r="1.9"/>
<circle cx="155.0" cy="518.5" r="1.9"/>
<circle cx="162.5" cy="519.3" r="1.9"/>
<circle cx="144.7" cy="518.5" r="1.9"/>
<circle cx="140.8" cy="519.7" r="1.9"/>
<circle cx="170.0" cy="521.0" r="1.9"/>
<circle cx="150.0" cy="512.3" r="1.9"/>
<circle cx="164.2" cy="516.0" r="1.9"/>
<circle cx="149.4" cy="525.6" r="1.9"/>
<circle cx="158.4" cy="526.3" r="1.9"/>
<circle cx="155.5" cy="526.2" r="1.9"/>
<circle cx="118.2" cy="524.6" r="1.9"/>
<circle cx="166.2" cy="525.3" r="1.9"/>
<circle cx="164.0" cy="523.4" r="1.9"/>
<circle cx="141.3" cy="523.9" r="1.9"/>
<circle cx="145.2" cy="525.0" r="1.9"/>
<circle cx="117.4" cy="523.8" r="1.9"/>
<circle cx="131.3" cy="526.2" r="1.9"/>
<circle cx="156.9" cy="523.6" r="1.9"/>
<circle cx="158.5" cy="523.5" r="1.9"/>
<circle cx="149.1" cy="523.4" r="1.9"/>
<circle cx="116.8" cy="526.0" r="1.9"/>
<circle cx="127.7" cy="523.8" r="1.9"/>
<circle cx="168.2" cy="526.1" r="1.9"/>
<circle cx="131.9" cy="526.4" r="1.9"/>
<circle cx="145.0" cy="525.4" r="1.9"/>
<circle cx="127.4" cy="526.3" r="1.9"/>
<circle cx="152.9" cy="526.4" r="1.9"/>
<circle cx="163.6" cy="524.0" r="1.9"/>
<circle cx="135.6" cy="523.6" r="1.9"/>
<circle cx="124.3" cy="523.2" r="1.9"/>
<circle cx="132.5" cy="525.1" r="1.9"/>
<circle cx="116.8" cy="525.4" r="1.9"/>
<circle cx="134.4" cy="524.1" r="1.9"/>
<circle cx="159.6" cy="524.7" r="1.9"/>
<circle cx="133.2" cy="524.7" r="1.9"/>
<circle cx="153.7" cy="523.2" r="1.9"/>
<circle cx="167.9" cy="523.1" r="1.9"/>
<circle cx="156.0" cy="526.0" r="1.9"/>
<circle cx="117.6" cy="525.8" r="1.9"/>
<circle cx="135.9" cy="525.0" r="1.9"/>
<circle cx="117.1" cy="523.2" r="1.9"/>
<circle cx="126.2" cy="526.3" r="1.9"/>
<circle cx="127.0" cy="525.6" r="1.9"/>
<circle cx="165.5" cy="526.3" r="1.9"/>
<circle cx="134.7" cy="524.2" r="1.9"/>
<circle cx="144.2" cy="525.7" r="1.9"/>
<circle cx="122.3" cy="525.6" r="1.9"/>
<circle cx="158.5" cy="526.0" r="1.9"/>
<circle cx="118.6" cy="526.3" r="1.9"/>
<circle cx="125.8" cy="524.6" r="1.9"/>
<circle cx="139.6" cy="526.1" r="1.9"/>
<circle cx="132.4" cy="526.1" r="1.9"/>
<circle cx="137.9" cy="524.5" r="1.9"/>
<circle cx="131.8" cy="524.1" r="1.9"/>
<circle cx="125.4" cy="524.1" r="1.9"/>
<circle cx="141.7" cy="526.3" r="1.9"/>
<circle cx="127.6" cy="523.8" r="1.9"/>
<circle cx="149.6" cy="525.1" r="1.9"/>
<circle cx="134.2" cy="524.3" r="1.9"/>
<circle cx="139.2" cy="525.9" r="1.9"/>
<circle cx="135.5" cy="524.8" r="1.9"/>
<circle cx="124.8" cy="526.1" r="1.9"/>
<circle cx="124.2" cy="525.0" r="1.9"/>
</g>
<path d="M172.8 425.2L175.1 429.3H170.5Z" fill="#74c690" fill-opacity="0.6"/>
<ellipse cx="168.00" cy="409.70" rx="1.90" ry="1.90" fill="#e07f84"/>
<ellipse cx="172.50" cy="409.70" rx="1.90" ry="1.90" fill="#e07f84"/>
<ellipse cx="173.30" cy="421.70" rx="1.90" ry="1.90" fill="#e07f84"/>
<ellipse cx="152.20" cy="495.70" rx="1.90" ry="1.90" fill="#e07f84"/>
<ellipse cx="166.70" cy="509.30" rx="1.90" ry="1.90" fill="#e07f84"/>
<ellipse cx="139.70" cy="517.30" rx="1.90" ry="1.90" fill="#e07f84"/>
<ellipse cx="171.30" cy="520.20" rx="1.90" ry="1.90" fill="#e07f84"/>
<ellipse cx="162.50" cy="525.50" rx="1.90" ry="1.90" fill="#e07f84"/>
<ellipse cx="164.20" cy="409.70" rx="1.90" ry="1.90" fill="#7fc797" stroke="#222" stroke-width="0.6"/>
<ellipse cx="178.70" cy="413.70" rx="1.90" ry="1.90" fill="#7fc797" stroke="#222" stroke-width="0.6"/>
<ellipse cx="139.50" cy="490.70" rx="1.90" ry="1.90" fill="#7fc797" stroke="#222" stroke-width="0.6"/>
<ellipse cx="166.70" cy="488.50" rx="1.90" ry="1.90" fill="#7fc797" stroke="#222" stroke-width="0.6"/>
<ellipse cx="169.20" cy="494.00" rx="1.90" ry="1.90" fill="#7fc797" stroke="#222" stroke-width="0.6"/>
<ellipse cx="146.70" cy="504.80" rx="1.90" ry="1.90" fill="#7fc797" stroke="#222" stroke-width="0.6"/>
<ellipse cx="148.50" cy="510.70" rx="1.90" ry="1.90" fill="#7fc797" stroke="#222" stroke-width="0.6"/>
<ellipse cx="173.30" cy="516.00" rx="1.90" ry="1.90" fill="#7fc797" stroke="#222" stroke-width="0.6"/>
<text x="166.70" y="406.40" font-size="8.4" fill="#ea8b8b" text-anchor="middle">7</text>
<text x="175.80" y="406.40" font-size="8.4" fill="#ea8b8b" text-anchor="middle">8</text>
<text x="178.95" y="426.40" font-size="8.4" fill="#ea8b8b" text-anchor="middle">3</text>
<text x="139.50" y="419.60" font-size="8.2" fill="#2c2c2c" textLength="23.80" lengthAdjust="spacingAndGlyphs">Ep300</text>
<text x="182.80" y="419.60" font-size="8.2" fill="#2c2c2c" textLength="24.70" lengthAdjust="spacingAndGlyphs">Med26</text>
<text x="145.80" y="481.90" font-size="8.2" fill="#2c2c2c" textLength="15.40" lengthAdjust="spacingAndGlyphs">Rela</text>
<text x="116.70" y="487.40" font-size="8.2" fill="#2c2c2c" textLength="23.30" lengthAdjust="spacingAndGlyphs">Kmt2c</text>
<text x="152.10" y="493.30" font-size="8.4" fill="#ea8b8b" text-anchor="middle">2</text>
<text x="173.70" y="494.70" font-size="8.2" fill="#2c2c2c" textLength="20.80" lengthAdjust="spacingAndGlyphs">Foxo1</text>
<text x="129.20" y="501.10" font-size="8.2" fill="#2c2c2c" textLength="19.10" lengthAdjust="spacingAndGlyphs">Stat6</text>
<text x="113.00" y="508.40" font-size="8.2" fill="#2c2c2c" textLength="22.80" lengthAdjust="spacingAndGlyphs">Med15</text>
<text x="141.85" y="514.90" font-size="8.4" fill="#ea8b8b" text-anchor="middle">5</text>
<text x="171.90" y="513.60" font-size="8.4" fill="#ea8b8b" text-anchor="middle">6</text>
<text x="176.70" y="516.40" font-size="8.2" fill="#2c2c2c" textLength="24.10" lengthAdjust="spacingAndGlyphs">Kmt2b</text>
<text x="173.30" y="528.30" font-size="8.4" fill="#ea8b8b" text-anchor="middle">4</text>
<text x="166.10" y="531.60" font-size="8.4" fill="#ea8b8b" text-anchor="middle">1</text>
<line x1="273.30" y1="409.95" x2="273.30" y2="527.95" stroke="#6b6b6b" stroke-width="0.7"/>
<line x1="270.20" y1="410.30" x2="273.30" y2="410.30" stroke="#6b6b6b" stroke-width="0.7"/>
<text x="266.20" y="413.20" font-size="8" fill="#333" text-anchor="end">300</text>
<line x1="270.20" y1="429.85" x2="273.30" y2="429.85" stroke="#6b6b6b" stroke-width="0.7"/>
<text x="266.20" y="432.75" font-size="8" fill="#333" text-anchor="end">250</text>
<line x1="270.20" y1="449.40" x2="273.30" y2="449.40" stroke="#6b6b6b" stroke-width="0.7"/>
<text x="266.20" y="452.30" font-size="8" fill="#333" text-anchor="end">200</text>
<line x1="270.20" y1="468.95" x2="273.30" y2="468.95" stroke="#6b6b6b" stroke-width="0.7"/>
<text x="266.20" y="471.85" font-size="8" fill="#333" text-anchor="end">150</text>
<line x1="270.20" y1="488.50" x2="273.30" y2="488.50" stroke="#6b6b6b" stroke-width="0.7"/>
<text x="266.20" y="491.40" font-size="8" fill="#333" text-anchor="end">100</text>
<line x1="270.20" y1="508.05" x2="273.30" y2="508.05" stroke="#6b6b6b" stroke-width="0.7"/>
<text x="266.20" y="510.95" font-size="8" fill="#333" text-anchor="end">50</text>
<line x1="270.20" y1="527.60" x2="273.30" y2="527.60" stroke="#6b6b6b" stroke-width="0.7"/>
<text x="266.20" y="530.50" font-size="8" fill="#333" text-anchor="end">0</text>
<line x1="289.95" y1="532.20" x2="428.15" y2="532.20" stroke="#b9b9b9" stroke-width="0.9"/>
<line x1="290.30" y1="532.20" x2="290.30" y2="534.60" stroke="#8a8a8a" stroke-width="0.7"/>
<text x="290.30" y="545.20" font-size="8.6" fill="#333" text-anchor="middle">−4</text>
<line x1="313.20" y1="532.20" x2="313.20" y2="534.60" stroke="#8a8a8a" stroke-width="0.7"/>
<text x="313.20" y="545.20" font-size="8.6" fill="#333" text-anchor="middle">−2</text>
<line x1="335.90" y1="532.20" x2="335.90" y2="534.60" stroke="#8a8a8a" stroke-width="0.7"/>
<text x="335.90" y="545.20" font-size="8.6" fill="#333" text-anchor="middle">0</text>
<line x1="358.70" y1="532.20" x2="358.70" y2="534.60" stroke="#8a8a8a" stroke-width="0.7"/>
<text x="358.70" y="545.20" font-size="8.6" fill="#333" text-anchor="middle">2</text>
<line x1="381.70" y1="532.20" x2="381.70" y2="534.60" stroke="#8a8a8a" stroke-width="0.7"/>
<text x="381.70" y="545.20" font-size="8.6" fill="#333" text-anchor="middle">4</text>
<line x1="404.70" y1="532.20" x2="404.70" y2="534.60" stroke="#8a8a8a" stroke-width="0.7"/>
<text x="404.70" y="545.20" font-size="8.6" fill="#333" text-anchor="middle">6</text>
<line x1="427.80" y1="532.20" x2="427.80" y2="534.60" stroke="#8a8a8a" stroke-width="0.7"/>
<text x="427.80" y="545.20" font-size="8.6" fill="#333" text-anchor="middle">8</text>
<text x="326.20" y="559.80" font-size="8.8" fill="#333" textLength="59.40" lengthAdjust="spacingAndGlyphs">Odds ratio (log</text>
<text x="386.00" y="561.80" font-size="5.4" fill="#333">2</text>
<text x="389.70" y="559.80" font-size="8.8" fill="#333">)</text>
<g transform="translate(242.00,492.8) rotate(-90)">
<text x="0.00" y="0.00" font-size="8.6" fill="#333" textLength="38.60" lengthAdjust="spacingAndGlyphs">FDR (−log</text>
<text x="39.00" y="1.80" font-size="5.2" fill="#333" textLength="5.40" lengthAdjust="spacingAndGlyphs">10</text>
<text x="44.70" y="0.00" font-size="8.6" fill="#333">)</text>
</g>
<rect x="302.00" y="525.40" width="70.00" height="4.40" fill="#d9dadc" rx="2.2"/>
<rect x="392.00" y="517.90" width="23.00" height="2.30" fill="#d9dadc"/>
<g fill="#5589d4" fill-opacity="0.62">
<circle cx="381.7" cy="430.5" r="1.9"/>
<circle cx="401.2" cy="436.7" r="1.9"/>
<circle cx="401.2" cy="440.0" r="1.9"/>
<circle cx="406.0" cy="445.0" r="1.9"/>
<circle cx="392.7" cy="451.7" r="1.9"/>
<circle cx="399.7" cy="450.3" r="1.9"/>
<circle cx="407.2" cy="452.2" r="1.9"/>
<circle cx="392.2" cy="460.0" r="1.9"/>
<circle cx="372.2" cy="462.8" r="1.9"/>
<circle cx="374.5" cy="467.0" r="1.9"/>
<circle cx="393.0" cy="469.5" r="1.9"/>
<circle cx="388.7" cy="473.8" r="1.9"/>
<circle cx="400.0" cy="473.3" r="1.9"/>
<circle cx="400.0" cy="476.2" r="1.9"/>
<circle cx="400.0" cy="478.3" r="1.9"/>
<circle cx="408.0" cy="478.3" r="1.9"/>
<circle cx="408.0" cy="479.7" r="1.9"/>
<circle cx="381.7" cy="481.2" r="1.9"/>
<circle cx="382.0" cy="486.0" r="1.9"/>
<circle cx="396.7" cy="483.3" r="1.9"/>
<circle cx="397.5" cy="482.2" r="1.9"/>
<circle cx="388.3" cy="484.5" r="1.9"/>
<circle cx="384.7" cy="419.7" r="1.9"/>
<circle cx="393.3" cy="419.7" r="1.9"/>
<circle cx="394.6" cy="419.7" r="1.9"/>
<circle cx="396.0" cy="419.7" r="1.9"/>
<circle cx="397.5" cy="419.7" r="1.9"/>
<circle cx="399.0" cy="419.7" r="1.9"/>
<circle cx="400.4" cy="419.7" r="1.9"/>
<circle cx="401.8" cy="419.7" r="1.9"/>
<circle cx="403.2" cy="419.7" r="1.9"/>
<circle cx="404.2" cy="419.7" r="1.9"/>
<circle cx="405.2" cy="419.7" r="1.9"/>
<circle cx="406.3" cy="419.7" r="1.9"/>
<circle cx="403.8" cy="419.7" r="1.9"/>
<circle cx="404.8" cy="419.7" r="1.9"/>
<circle cx="389.2" cy="473.5" r="1.9"/>
<circle cx="400.0" cy="473.5" r="1.9"/>
<circle cx="399.2" cy="477.7" r="1.9"/>
<circle cx="408.3" cy="478.5" r="1.9"/>
<circle cx="381.7" cy="481.0" r="1.9"/>
<circle cx="397.5" cy="482.7" r="1.9"/>
<circle cx="381.7" cy="486.0" r="1.9"/>
<circle cx="398.3" cy="487.7" r="1.9"/>
<circle cx="401.7" cy="487.7" r="1.9"/>
<circle cx="414.7" cy="489.3" r="1.9"/>
<circle cx="374.2" cy="491.8" r="1.9"/>
<circle cx="386.7" cy="492.3" r="1.9"/>
<circle cx="390.0" cy="491.0" r="1.9"/>
<circle cx="391.7" cy="492.7" r="1.9"/>
<circle cx="395.8" cy="494.3" r="1.9"/>
<circle cx="378.3" cy="496.8" r="1.9"/>
<circle cx="382.5" cy="496.0" r="1.9"/>
<circle cx="385.8" cy="494.3" r="1.9"/>
<circle cx="366.7" cy="499.3" r="1.9"/>
<circle cx="390.0" cy="500.2" r="1.9"/>
<circle cx="368.3" cy="504.3" r="1.9"/>
<circle cx="379.2" cy="504.3" r="1.9"/>
<circle cx="390.0" cy="504.3" r="1.9"/>
<circle cx="395.0" cy="503.5" r="1.9"/>
<circle cx="400.8" cy="505.2" r="1.9"/>
<circle cx="370.0" cy="508.5" r="1.9"/>
<circle cx="388.3" cy="507.7" r="1.9"/>
<circle cx="394.2" cy="507.7" r="1.9"/>
<circle cx="364.2" cy="514.7" r="1.9"/>
<circle cx="360.0" cy="516.8" r="1.9"/>
<circle cx="383.3" cy="514.7" r="1.9"/>
<circle cx="391.7" cy="511.8" r="1.9"/>
<circle cx="399.2" cy="511.0" r="1.9"/>
<circle cx="395.0" cy="515.2" r="1.9"/>
<circle cx="398.3" cy="514.7" r="1.9"/>
<circle cx="401.7" cy="514.7" r="1.9"/>
<circle cx="370.0" cy="518.5" r="1.9"/>
<circle cx="375.8" cy="518.5" r="1.9"/>
<circle cx="390.0" cy="519.3" r="1.9"/>
<circle cx="397.5" cy="518.5" r="1.9"/>
<circle cx="404.2" cy="521.0" r="1.9"/>
<circle cx="410.0" cy="521.8" r="1.9"/>
<circle cx="413.3" cy="521.8" r="1.9"/>
<circle cx="417.0" cy="525.2" r="1.9"/>
<circle cx="403.3" cy="524.0" r="1.9"/>
<circle cx="400.8" cy="521.0" r="1.9"/>
<circle cx="408.7" cy="522.7" r="1.9"/>
<circle cx="366.2" cy="521.6" r="1.9"/>
<circle cx="381.8" cy="521.1" r="1.9"/>
<circle cx="376.3" cy="522.9" r="1.9"/>
<circle cx="353.6" cy="523.7" r="1.9"/>
<circle cx="352.6" cy="523.3" r="1.9"/>
<circle cx="354.2" cy="521.2" r="1.9"/>
<circle cx="371.0" cy="525.6" r="1.9"/>
<circle cx="356.7" cy="522.0" r="1.9"/>
<circle cx="380.6" cy="526.4" r="1.9"/>
<circle cx="378.2" cy="523.0" r="1.9"/>
<circle cx="397.2" cy="520.9" r="1.9"/>
<circle cx="391.6" cy="522.4" r="1.9"/>
<circle cx="357.7" cy="521.4" r="1.9"/>
<circle cx="365.5" cy="525.6" r="1.9"/>
<circle cx="359.4" cy="524.2" r="1.9"/>
<circle cx="381.2" cy="522.9" r="1.9"/>
<circle cx="376.9" cy="521.0" r="1.9"/>
<circle cx="353.7" cy="521.9" r="1.9"/>
<circle cx="383.2" cy="523.2" r="1.9"/>
<circle cx="365.8" cy="524.2" r="1.9"/>
<circle cx="372.4" cy="522.5" r="1.9"/>
<circle cx="388.6" cy="524.9" r="1.9"/>
<circle cx="362.4" cy="524.1" r="1.9"/>
<circle cx="375.8" cy="525.9" r="1.9"/>
<circle cx="385.5" cy="522.4" r="1.9"/>
<circle cx="397.4" cy="521.4" r="1.9"/>
<circle cx="370.7" cy="525.2" r="1.9"/>
<circle cx="358.1" cy="523.6" r="1.9"/>
<circle cx="352.7" cy="524.7" r="1.9"/>
<circle cx="387.2" cy="524.1" r="1.9"/>
<circle cx="392.4" cy="522.5" r="1.9"/>
<circle cx="383.9" cy="524.2" r="1.9"/>
<circle cx="378.4" cy="523.4" r="1.9"/>
<circle cx="390.7" cy="526.3" r="1.9"/>
<circle cx="373.4" cy="524.7" r="1.9"/>
<circle cx="353.7" cy="524.9" r="1.9"/>
<circle cx="381.6" cy="526.6" r="1.9"/>
<circle cx="389.9" cy="522.4" r="1.9"/>
<circle cx="369.2" cy="524.7" r="1.9"/>
<circle cx="351.9" cy="523.4" r="1.9"/>
<circle cx="358.8" cy="521.4" r="1.9"/>
<circle cx="353.6" cy="525.3" r="1.9"/>
<circle cx="357.0" cy="522.2" r="1.9"/>
<circle cx="369.4" cy="525.9" r="1.9"/>
<circle cx="354.7" cy="523.4" r="1.9"/>
<circle cx="376.9" cy="526.0" r="1.9"/>
<circle cx="389.7" cy="525.9" r="1.9"/>
<circle cx="364.1" cy="523.2" r="1.9"/>
<circle cx="367.9" cy="526.0" r="1.9"/>
<circle cx="396.3" cy="521.6" r="1.9"/>
<circle cx="359.2" cy="522.1" r="1.9"/>
<circle cx="361.9" cy="523.6" r="1.9"/>
<circle cx="378.8" cy="522.2" r="1.9"/>
<circle cx="351.0" cy="523.2" r="1.9"/>
<circle cx="368.4" cy="524.1" r="1.9"/>
<circle cx="396.1" cy="524.8" r="1.9"/>
<circle cx="375.3" cy="524.4" r="1.9"/>
<circle cx="383.0" cy="521.0" r="1.9"/>
<circle cx="393.6" cy="525.3" r="1.9"/>
<circle cx="392.4" cy="525.5" r="1.9"/>
<circle cx="369.5" cy="523.1" r="1.9"/>
<circle cx="355.8" cy="524.5" r="1.9"/>
<circle cx="353.8" cy="521.1" r="1.9"/>
<circle cx="360.7" cy="521.6" r="1.9"/>
<circle cx="367.0" cy="521.0" r="1.9"/>
<circle cx="350.8" cy="521.6" r="1.9"/>
<circle cx="355.7" cy="522.8" r="1.9"/>
<circle cx="352.0" cy="525.9" r="1.9"/>
<circle cx="380.0" cy="521.6" r="1.9"/>
<circle cx="362.8" cy="522.8" r="1.9"/>
<circle cx="368.1" cy="521.4" r="1.9"/>
<circle cx="391.2" cy="526.6" r="1.9"/>
<circle cx="373.0" cy="523.6" r="1.9"/>
<circle cx="354.9" cy="521.3" r="1.9"/>
<circle cx="367.1" cy="522.3" r="1.9"/>
<circle cx="390.2" cy="521.6" r="1.9"/>
<circle cx="351.9" cy="526.4" r="1.9"/>
<circle cx="375.9" cy="521.5" r="1.9"/>
<circle cx="376.6" cy="520.8" r="1.9"/>
<circle cx="375.9" cy="526.5" r="1.9"/>
<circle cx="391.8" cy="524.8" r="1.9"/>
<circle cx="363.2" cy="522.9" r="1.9"/>
<circle cx="358.8" cy="525.3" r="1.9"/>
<circle cx="376.1" cy="525.3" r="1.9"/>
<circle cx="366.5" cy="522.0" r="1.9"/>
<circle cx="389.4" cy="526.6" r="1.9"/>
<circle cx="391.3" cy="525.5" r="1.9"/>
<circle cx="389.7" cy="525.1" r="1.9"/>
<circle cx="361.6" cy="523.8" r="1.9"/>
<circle cx="367.7" cy="520.8" r="1.9"/>
<circle cx="352.2" cy="522.3" r="1.9"/>
<circle cx="363.1" cy="524.8" r="1.9"/>
<circle cx="396.3" cy="523.4" r="1.9"/>
<circle cx="395.3" cy="526.6" r="1.9"/>
<circle cx="396.2" cy="522.9" r="1.9"/>
<circle cx="361.3" cy="522.0" r="1.9"/>
<circle cx="360.2" cy="521.9" r="1.9"/>
<circle cx="380.5" cy="526.1" r="1.9"/>
<circle cx="390.8" cy="523.5" r="1.9"/>
<circle cx="381.8" cy="525.5" r="1.9"/>
<circle cx="354.9" cy="524.6" r="1.9"/>
<circle cx="394.0" cy="525.4" r="1.9"/>
<circle cx="386.5" cy="523.5" r="1.9"/>
<circle cx="359.3" cy="525.4" r="1.9"/>
<circle cx="366.6" cy="525.5" r="1.9"/>
<circle cx="397.0" cy="523.0" r="1.9"/>
<circle cx="369.9" cy="526.3" r="1.9"/>
<circle cx="385.3" cy="521.7" r="1.9"/>
<circle cx="356.9" cy="521.6" r="1.9"/>
<circle cx="393.8" cy="525.5" r="1.9"/>
<circle cx="357.8" cy="525.6" r="1.9"/>
<circle cx="397.4" cy="524.6" r="1.9"/>
<circle cx="367.5" cy="524.0" r="1.9"/>
<circle cx="357.1" cy="520.8" r="1.9"/>
<circle cx="397.0" cy="524.6" r="1.9"/>
<circle cx="370.0" cy="523.6" r="1.9"/>
<circle cx="367.1" cy="523.2" r="1.9"/>
<circle cx="379.5" cy="519.3" r="1.9"/>
<circle cx="361.3" cy="519.8" r="1.9"/>
<circle cx="361.0" cy="521.5" r="1.9"/>
<circle cx="361.5" cy="520.5" r="1.9"/>
<circle cx="357.5" cy="523.5" r="1.9"/>
<circle cx="364.5" cy="520.7" r="1.9"/>
<circle cx="371.8" cy="523.4" r="1.9"/>
<circle cx="366.7" cy="523.5" r="1.9"/>
<circle cx="369.2" cy="521.2" r="1.9"/>
<circle cx="369.9" cy="518.1" r="1.9"/>
<circle cx="367.3" cy="519.1" r="1.9"/>
<circle cx="353.5" cy="522.8" r="1.9"/>
<circle cx="358.8" cy="520.8" r="1.9"/>
<circle cx="376.3" cy="521.3" r="1.9"/>
<circle cx="363.7" cy="521.1" r="1.9"/>
<circle cx="370.9" cy="522.7" r="1.9"/>
<circle cx="356.7" cy="521.4" r="1.9"/>
<circle cx="361.2" cy="519.7" r="1.9"/>
<circle cx="377.8" cy="521.0" r="1.9"/>
<circle cx="371.1" cy="522.6" r="1.9"/>
<circle cx="382.2" cy="520.7" r="1.9"/>
<circle cx="372.7" cy="521.0" r="1.9"/>
<circle cx="369.6" cy="522.2" r="1.9"/>
<circle cx="367.7" cy="521.2" r="1.9"/>
</g>
<path d="M384.2 500.2L386.5 504.3H381.9Z" fill="#5589d4" fill-opacity="0.65"/>
<ellipse cx="385.80" cy="419.70" rx="1.90" ry="1.90" fill="#e07f84"/>
<ellipse cx="378.70" cy="426.70" rx="1.90" ry="1.90" fill="#e07f84"/>
<ellipse cx="380.00" cy="449.30" rx="1.90" ry="1.90" fill="#e07f84"/>
<ellipse cx="390.80" cy="483.80" rx="1.90" ry="1.90" fill="#e07f84"/>
<ellipse cx="394.70" cy="499.30" rx="1.90" ry="1.90" fill="#e07f84"/>
<ellipse cx="370.00" cy="508.50" rx="1.90" ry="1.90" fill="#e07f84"/>
<ellipse cx="371.70" cy="513.50" rx="1.90" ry="1.90" fill="#e07f84"/>
<ellipse cx="365.30" cy="524.00" rx="1.90" ry="1.90" fill="#e07f84"/>
<ellipse cx="390.00" cy="419.70" rx="1.90" ry="1.90" fill="#5e8fd6" stroke="#222" stroke-width="0.75"/>
<ellipse cx="375.30" cy="439.30" rx="1.90" ry="1.90" fill="#5e8fd6" stroke="#222" stroke-width="0.75"/>
<ellipse cx="382.20" cy="450.00" rx="1.90" ry="1.90" fill="#5e8fd6" stroke="#222" stroke-width="0.75"/>
<ellipse cx="404.20" cy="492.70" rx="1.90" ry="1.90" fill="#5e8fd6" stroke="#222" stroke-width="0.75"/>
<ellipse cx="398.80" cy="496.80" rx="1.90" ry="1.90" fill="#5e8fd6" stroke="#222" stroke-width="0.75"/>
<ellipse cx="398.30" cy="500.20" rx="1.90" ry="1.90" fill="#5e8fd6" stroke="#222" stroke-width="0.75"/>
<ellipse cx="369.20" cy="496.50" rx="1.90" ry="1.90" fill="#5e8fd6" stroke="#222" stroke-width="0.75"/>
<ellipse cx="387.00" cy="519.30" rx="1.90" ry="1.90" fill="#5e8fd6" stroke="#222" stroke-width="0.75"/>
<line x1="405.20" y1="491.40" x2="409.60" y2="486.60" stroke="#222" stroke-width="0.7"/>
<line x1="400.60" y1="496.80" x2="406.80" y2="496.80" stroke="#222" stroke-width="0.7"/>
<line x1="399.60" y1="501.40" x2="403.60" y2="505.40" stroke="#222" stroke-width="0.7"/>
<line x1="356.70" y1="516.00" x2="364.20" y2="523.00" stroke="#222" stroke-width="0.7"/>
<line x1="388.80" y1="519.30" x2="415.00" y2="519.30" stroke="#222" stroke-width="0.7" stroke-dasharray="5 1.6"/>
<text x="385.85" y="417.30" font-size="8.4" fill="#ea8b8b" text-anchor="middle">1</text>
<text x="391.70" y="417.10" font-size="8.2" fill="#2c2c2c" textLength="24.60" lengthAdjust="spacingAndGlyphs">Trim28</text>
<text x="374.15" y="428.10" font-size="8.4" fill="#ea8b8b" text-anchor="middle">7</text>
<text x="351.70" y="442.10" font-size="8.2" fill="#2c2c2c" textLength="20.80" lengthAdjust="spacingAndGlyphs">Ncor1</text>
<text x="382.75" y="446.90" font-size="8.4" fill="#ea8b8b" text-anchor="middle">4</text>
<text x="360.80" y="459.60" font-size="8.2" fill="#2c2c2c" textLength="25.50" lengthAdjust="spacingAndGlyphs">Kdm2b</text>
<text x="392.90" y="481.40" font-size="8.4" fill="#ea8b8b" text-anchor="middle">2</text>
<text x="409.20" y="486.90" font-size="8.2" fill="#2c2c2c" textLength="18.30" lengthAdjust="spacingAndGlyphs">Cbx3</text>
<text x="350.00" y="494.70" font-size="8.2" fill="#2c2c2c" textLength="15.00" lengthAdjust="spacingAndGlyphs">Rest</text>
<text x="396.10" y="496.30" font-size="8.4" fill="#ea8b8b" text-anchor="middle">8</text>
<text x="409.20" y="499.70" font-size="8.2" fill="#2c2c2c" textLength="23.00" lengthAdjust="spacingAndGlyphs">Ehmt2</text>
<text x="406.70" y="508.90" font-size="8.2" fill="#2c2c2c" textLength="20.80" lengthAdjust="spacingAndGlyphs">Pcgf6</text>
<text x="374.00" y="509.10" font-size="8.4" fill="#ea8b8b" text-anchor="middle">3</text>
<text x="376.85" y="516.30" font-size="8.4" fill="#ea8b8b" text-anchor="middle">5</text>
<text x="353.90" y="516.30" font-size="8.4" fill="#ea8b8b" text-anchor="middle">6</text>
<text x="415.80" y="521.10" font-size="8.2" fill="#2c2c2c" textLength="19.20" lengthAdjust="spacingAndGlyphs">Tasor</text>
<line x1="505.50" y1="409.95" x2="505.50" y2="527.95" stroke="#6b6b6b" stroke-width="0.7"/>
<line x1="502.40" y1="410.30" x2="505.50" y2="410.30" stroke="#6b6b6b" stroke-width="0.7"/>
<text x="498.30" y="413.20" font-size="8" fill="#333" text-anchor="end">300</text>
<line x1="502.40" y1="429.85" x2="505.50" y2="429.85" stroke="#6b6b6b" stroke-width="0.7"/>
<text x="498.30" y="432.75" font-size="8" fill="#333" text-anchor="end">250</text>
<line x1="502.40" y1="449.40" x2="505.50" y2="449.40" stroke="#6b6b6b" stroke-width="0.7"/>
<text x="498.30" y="452.30" font-size="8" fill="#333" text-anchor="end">200</text>
<line x1="502.40" y1="468.95" x2="505.50" y2="468.95" stroke="#6b6b6b" stroke-width="0.7"/>
<text x="498.30" y="471.85" font-size="8" fill="#333" text-anchor="end">150</text>
<line x1="502.40" y1="488.50" x2="505.50" y2="488.50" stroke="#6b6b6b" stroke-width="0.7"/>
<text x="498.30" y="491.40" font-size="8" fill="#333" text-anchor="end">100</text>
<line x1="502.40" y1="508.05" x2="505.50" y2="508.05" stroke="#6b6b6b" stroke-width="0.7"/>
<text x="498.30" y="510.95" font-size="8" fill="#333" text-anchor="end">50</text>
<line x1="502.40" y1="527.60" x2="505.50" y2="527.60" stroke="#6b6b6b" stroke-width="0.7"/>
<text x="498.30" y="530.50" font-size="8" fill="#333" text-anchor="end">0</text>
<line x1="517.95" y1="532.20" x2="656.35" y2="532.20" stroke="#b9b9b9" stroke-width="0.9"/>
<line x1="518.30" y1="532.20" x2="518.30" y2="534.60" stroke="#8a8a8a" stroke-width="0.7"/>
<text x="518.30" y="545.20" font-size="8.6" fill="#333" text-anchor="middle">−4</text>
<line x1="546.20" y1="532.20" x2="546.20" y2="534.60" stroke="#8a8a8a" stroke-width="0.7"/>
<text x="546.20" y="545.20" font-size="8.6" fill="#333" text-anchor="middle">−2</text>
<line x1="573.50" y1="532.20" x2="573.50" y2="534.60" stroke="#8a8a8a" stroke-width="0.7"/>
<text x="573.50" y="545.20" font-size="8.6" fill="#333" text-anchor="middle">0</text>
<line x1="600.70" y1="532.20" x2="600.70" y2="534.60" stroke="#8a8a8a" stroke-width="0.7"/>
<text x="600.70" y="545.20" font-size="8.6" fill="#333" text-anchor="middle">2</text>
<line x1="628.30" y1="532.20" x2="628.30" y2="534.60" stroke="#8a8a8a" stroke-width="0.7"/>
<text x="628.30" y="545.20" font-size="8.6" fill="#333" text-anchor="middle">4</text>
<line x1="656.00" y1="532.20" x2="656.00" y2="534.60" stroke="#8a8a8a" stroke-width="0.7"/>
<text x="656.00" y="545.20" font-size="8.6" fill="#333" text-anchor="middle">6</text>
<text x="554.00" y="559.80" font-size="8.8" fill="#333" textLength="59.40" lengthAdjust="spacingAndGlyphs">Odds ratio (log</text>
<text x="613.80" y="561.80" font-size="5.4" fill="#333">2</text>
<text x="617.50" y="559.80" font-size="8.8" fill="#333">)</text>
<g transform="translate(474.00,492.8) rotate(-90)">
<text x="0.00" y="0.00" font-size="8.6" fill="#333" textLength="38.60" lengthAdjust="spacingAndGlyphs">FDR (−log</text>
<text x="39.00" y="1.80" font-size="5.2" fill="#333" textLength="5.40" lengthAdjust="spacingAndGlyphs">10</text>
<text x="44.70" y="0.00" font-size="8.6" fill="#333">)</text>
</g>
<rect x="540.80" y="525.40" width="107.20" height="4.40" fill="#d9dadc" rx="2.2"/>
<g fill="#cfd0d2" fill-opacity="1">
<circle cx="632.6" cy="527.6" r="1.7"/>
<circle cx="641.8" cy="527.8" r="1.7"/>
<circle cx="646.0" cy="527.2" r="1.7"/>
</g>
<g fill="#f6b93b" fill-opacity="0.6">
<circle cx="625.2" cy="475.7" r="1.9"/>
<circle cx="631.8" cy="500.7" r="1.9"/>
<circle cx="614.7" cy="502.3" r="1.9"/>
<circle cx="606.0" cy="506.3" r="1.9"/>
<circle cx="611.0" cy="507.7" r="1.9"/>
<circle cx="616.3" cy="510.2" r="1.9"/>
<circle cx="596.8" cy="520.2" r="1.9"/>
<circle cx="587.7" cy="521.0" r="1.9"/>
<circle cx="608.5" cy="520.2" r="1.9"/>
<circle cx="618.5" cy="518.5" r="1.9"/>
<circle cx="624.7" cy="517.3" r="1.9"/>
<circle cx="627.7" cy="520.7" r="1.9"/>
<circle cx="604.3" cy="521.0" r="1.9"/>
<circle cx="606.8" cy="521.8" r="1.9"/>
<circle cx="592.7" cy="521.8" r="1.9"/>
<circle cx="628.5" cy="519.3" r="1.9"/>
</g>
<g fill="#f6b93b" fill-opacity="0.72">
<circle cx="605.0" cy="524.9" r="1.9"/>
<circle cx="624.5" cy="524.5" r="1.9"/>
<circle cx="607.3" cy="525.0" r="1.9"/>
<circle cx="594.0" cy="524.7" r="1.9"/>
<circle cx="612.4" cy="525.8" r="1.9"/>
<circle cx="590.2" cy="523.9" r="1.9"/>
<circle cx="590.1" cy="525.9" r="1.9"/>
<circle cx="615.0" cy="522.8" r="1.9"/>
<circle cx="626.9" cy="526.5" r="1.9"/>
<circle cx="613.4" cy="525.1" r="1.9"/>
<circle cx="592.8" cy="522.7" r="1.9"/>
<circle cx="608.2" cy="522.9" r="1.9"/>
<circle cx="594.2" cy="523.6" r="1.9"/>
<circle cx="587.6" cy="524.5" r="1.9"/>
<circle cx="604.5" cy="526.0" r="1.9"/>
<circle cx="607.8" cy="525.2" r="1.9"/>
<circle cx="607.0" cy="525.3" r="1.9"/>
<circle cx="605.2" cy="523.8" r="1.9"/>
<circle cx="627.6" cy="526.6" r="1.9"/>
<circle cx="621.1" cy="525.5" r="1.9"/>
<circle cx="599.4" cy="523.6" r="1.9"/>
<circle cx="598.3" cy="522.9" r="1.9"/>
<circle cx="618.0" cy="524.3" r="1.9"/>
<circle cx="621.3" cy="524.2" r="1.9"/>
<circle cx="625.9" cy="526.1" r="1.9"/>
<circle cx="586.4" cy="523.5" r="1.9"/>
<circle cx="624.0" cy="524.5" r="1.9"/>
<circle cx="626.9" cy="524.3" r="1.9"/>
<circle cx="589.4" cy="525.2" r="1.9"/>
<circle cx="618.5" cy="523.7" r="1.9"/>
<circle cx="589.9" cy="524.0" r="1.9"/>
<circle cx="626.2" cy="525.7" r="1.9"/>
<circle cx="591.2" cy="523.7" r="1.9"/>
<circle cx="590.5" cy="522.9" r="1.9"/>
<circle cx="619.3" cy="523.4" r="1.9"/>
<circle cx="609.5" cy="524.5" r="1.9"/>
<circle cx="594.2" cy="525.6" r="1.9"/>
<circle cx="591.7" cy="525.2" r="1.9"/>
<circle cx="591.1" cy="524.3" r="1.9"/>
<circle cx="595.1" cy="523.7" r="1.9"/>
<circle cx="626.5" cy="525.9" r="1.9"/>
<circle cx="598.9" cy="526.2" r="1.9"/>
<circle cx="595.0" cy="524.2" r="1.9"/>
<circle cx="621.6" cy="525.2" r="1.9"/>
<circle cx="590.5" cy="526.6" r="1.9"/>
<circle cx="595.1" cy="523.7" r="1.9"/>
<circle cx="618.3" cy="524.0" r="1.9"/>
<circle cx="598.6" cy="523.0" r="1.9"/>
<circle cx="588.6" cy="524.2" r="1.9"/>
<circle cx="591.7" cy="524.3" r="1.9"/>
<circle cx="594.3" cy="523.6" r="1.9"/>
<circle cx="606.0" cy="523.8" r="1.9"/>
<circle cx="598.3" cy="525.7" r="1.9"/>
<circle cx="590.5" cy="522.1" r="1.9"/>
<circle cx="605.0" cy="525.4" r="1.9"/>
<circle cx="591.8" cy="522.3" r="1.9"/>
<circle cx="601.6" cy="526.0" r="1.9"/>
<circle cx="590.8" cy="526.1" r="1.9"/>
<circle cx="604.5" cy="524.4" r="1.9"/>
<circle cx="595.3" cy="521.9" r="1.9"/>
<circle cx="587.6" cy="526.1" r="1.9"/>
<circle cx="591.6" cy="524.9" r="1.9"/>
<circle cx="592.0" cy="525.5" r="1.9"/>
<circle cx="598.8" cy="522.8" r="1.9"/>
</g>
<path d="M617.7 404.6L620.1 408.9H615.3Z" fill="#f6b93b" fill-opacity="0.75"/>
<path d="M622.3 408.8L624.7 413.1H619.9Z" fill="#f6b93b" fill-opacity="0.75"/>
<path d="M600.7 496.1L603.1 500.4H598.3Z" fill="#f6b93b" fill-opacity="0.6"/>
<path d="M600.7 504.4L603.1 508.7H598.3Z" fill="#f6b93b" fill-opacity="0.6"/>
<path d="M604.4 507.8L606.8 512.1H602.0Z" fill="#f6b93b" fill-opacity="0.6"/>
<ellipse cx="613.20" cy="481.10" rx="1.90" ry="1.90" fill="#e07f84"/>
<ellipse cx="625.70" cy="477.60" rx="1.90" ry="1.90" fill="#e07f84"/>
<ellipse cx="632.30" cy="484.20" rx="1.90" ry="1.90" fill="#e07f84"/>
<ellipse cx="616.00" cy="498.20" rx="1.90" ry="1.90" fill="#e07f84"/>
<ellipse cx="627.60" cy="492.60" rx="1.90" ry="1.90" fill="#e07f84"/>
<ellipse cx="625.70" cy="506.80" rx="1.90" ry="1.90" fill="#e07f84"/>
<ellipse cx="628.00" cy="516.00" rx="1.90" ry="1.90" fill="#e07f84"/>
<ellipse cx="604.80" cy="514.00" rx="1.90" ry="1.90" fill="#e07f84"/>
<ellipse cx="635.70" cy="465.50" rx="1.90" ry="1.90" fill="#f6b93b" stroke="#222" stroke-width="0.8"/>
<ellipse cx="625.20" cy="490.50" rx="1.90" ry="1.90" fill="#f6b93b" stroke="#222" stroke-width="0.8"/>
<ellipse cx="628.20" cy="492.30" rx="1.90" ry="1.90" fill="#f6b93b" stroke="#222" stroke-width="0.8"/>
<ellipse cx="606.50" cy="501.80" rx="1.90" ry="1.90" fill="#f6b93b" stroke="#222" stroke-width="0.8"/>
<ellipse cx="628.80" cy="507.30" rx="1.90" ry="1.90" fill="#f6b93b" stroke="#222" stroke-width="0.8"/>
<ellipse cx="614.80" cy="519.30" rx="1.90" ry="1.90" fill="#f6b93b" stroke="#222" stroke-width="0.8"/>
<ellipse cx="625.70" cy="524.80" rx="1.90" ry="1.90" fill="#f6b93b" stroke="#222" stroke-width="0.8"/>
<ellipse cx="591.00" cy="523.20" rx="1.90" ry="1.90" fill="#f6b93b" stroke="#222" stroke-width="0.8"/>
<line x1="601.80" y1="495.70" x2="605.60" y2="500.60" stroke="#222" stroke-width="0.7"/>
<line x1="616.60" y1="519.10" x2="646.30" y2="516.00" stroke="#222" stroke-width="0.7"/>
<text x="638.50" y="466.20" font-size="8.2" fill="#2c2c2c" textLength="25.30" lengthAdjust="spacingAndGlyphs">Tnrc6b</text>
<text x="609.35" y="480.30" font-size="8.4" fill="#ea8b8b" text-anchor="middle">7</text>
<text x="630.90" y="480.30" font-size="8.4" fill="#ea8b8b" text-anchor="middle">5</text>
<text x="637.90" y="484.90" font-size="8.4" fill="#ea8b8b" text-anchor="middle">2</text>
<text x="606.80" y="488.60" font-size="8.2" fill="#2c2c2c" textLength="22.20" lengthAdjust="spacingAndGlyphs">Cnot2</text>
<text x="579.00" y="494.40" font-size="8.2" fill="#2c2c2c" textLength="25.30" lengthAdjust="spacingAndGlyphs">Tnrc6c</text>
<text x="630.70" y="495.60" font-size="8.2" fill="#2c2c2c" textLength="21.50" lengthAdjust="spacingAndGlyphs">Smg9</text>
<text x="611.10" y="497.40" font-size="8.4" fill="#ea8b8b" text-anchor="middle">6</text>
<text x="623.10" y="499.90" font-size="8.4" fill="#ea8b8b" text-anchor="middle">3</text>
<text x="621.40" y="509.90" font-size="8.4" fill="#ea8b8b" text-anchor="middle">4</text>
<text x="632.30" y="509.70" font-size="8.2" fill="#2c2c2c" textLength="19.00" lengthAdjust="spacingAndGlyphs">Ago2</text>
<text x="630.75" y="515.80" font-size="8.4" fill="#ea8b8b" text-anchor="middle">1</text>
<text x="599.75" y="516.90" font-size="8.4" fill="#ea8b8b" text-anchor="middle">8</text>
<text x="647.20" y="518.10" font-size="8.2" fill="#2c2c2c" textLength="21.00" lengthAdjust="spacingAndGlyphs">Smg5</text>
<text x="568.00" y="518.90" font-size="8.2" fill="#2c2c2c" textLength="22.20" lengthAdjust="spacingAndGlyphs">Eif4e2</text>
<text x="630.70" y="524.70" font-size="8.2" fill="#2c2c2c" textLength="22.30" lengthAdjust="spacingAndGlyphs">Cnot3</text>
</g>
</svg>
</body></html>
